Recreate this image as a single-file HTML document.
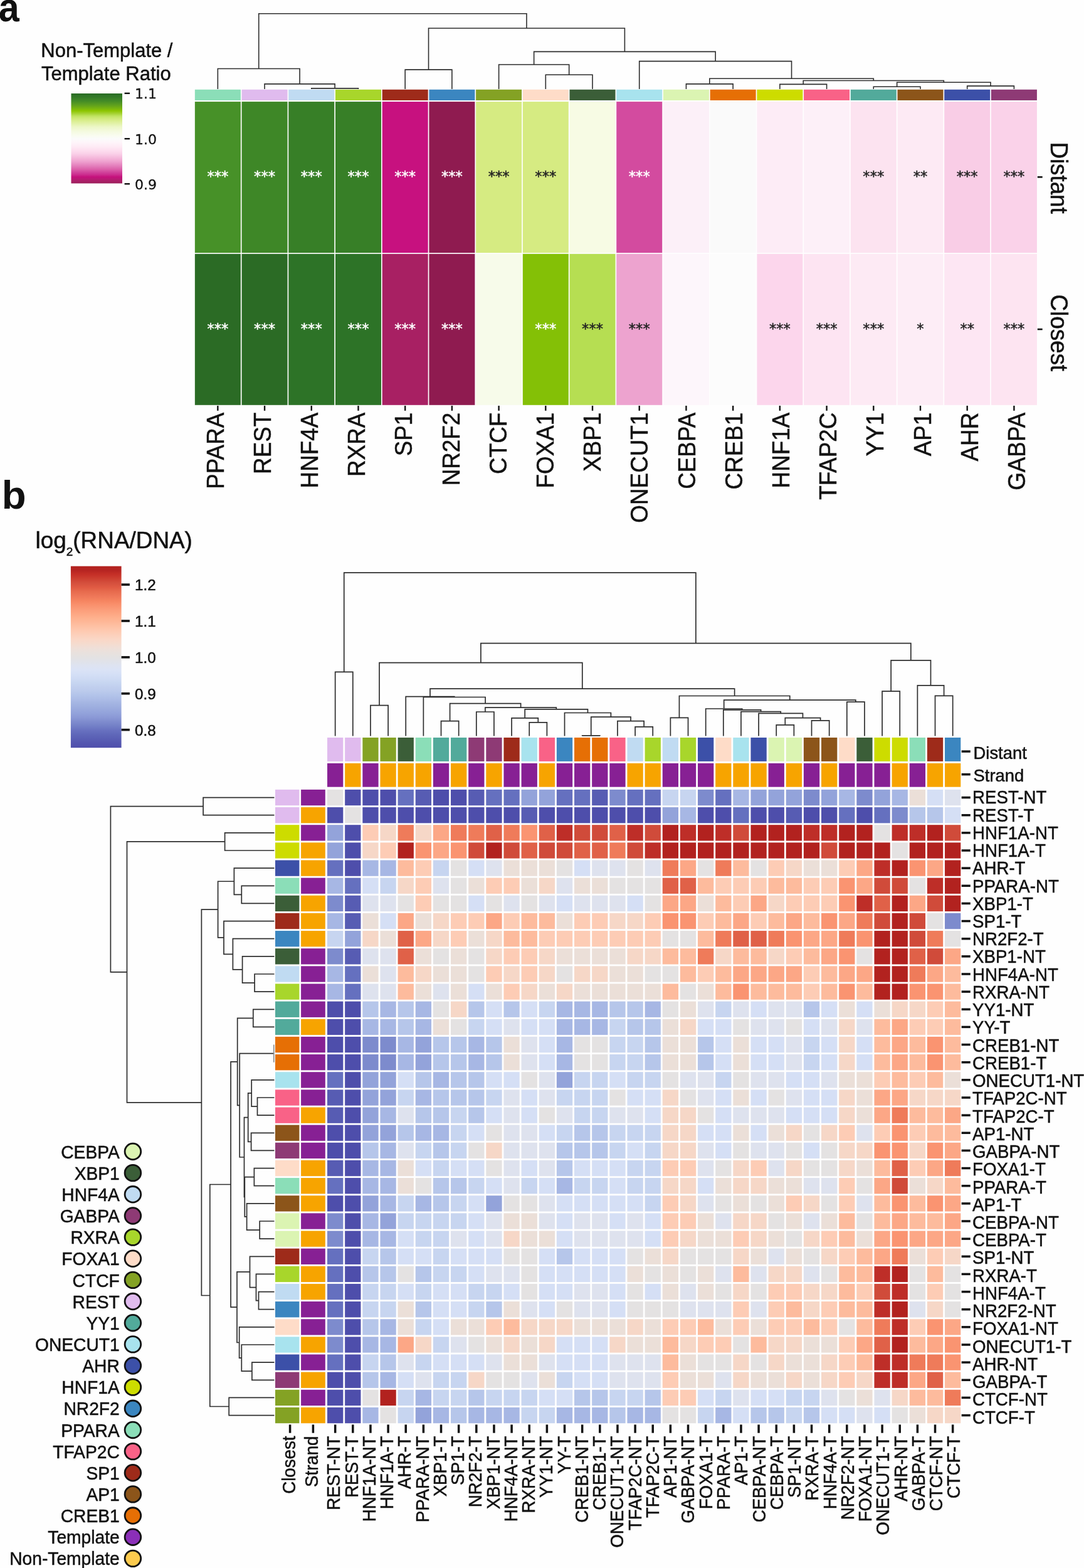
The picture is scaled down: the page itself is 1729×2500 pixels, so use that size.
<!DOCTYPE html>
<html lang="en"><head><meta charset="utf-8"><title>Figure: strand-specific TF activity heatmaps</title>
<style>html,body{margin:0;padding:0;background:#fff}body{width:1729px;height:2500px;overflow:hidden}svg{display:block}text{font-family:"Liberation Sans", Arial, Helvetica, sans-serif}text.d{font-family:"DejaVu Sans", "Liberation Sans", sans-serif}text.s{stroke:#111;stroke-width:0.5}</style>
</head><body>
<svg width="1729" height="2500" viewBox="0 0 1729 2500" fill="#111">
<rect width="1729" height="2500" fill="#fefefe"/>
<defs>
<linearGradient id="ga" x1="0" y1="0" x2="0" y2="1">
<stop offset="0" stop-color="#296a24"/>
<stop offset="0.034" stop-color="#317727"/>
<stop offset="0.082" stop-color="#428a27"/>
<stop offset="0.13" stop-color="#5fa01e"/>
<stop offset="0.169" stop-color="#7ab60e"/>
<stop offset="0.193" stop-color="#8cc500"/>
<stop offset="0.227" stop-color="#a8d438"/>
<stop offset="0.251" stop-color="#bfe360"/>
<stop offset="0.276" stop-color="#cfe978"/>
<stop offset="0.305" stop-color="#daee90"/>
<stop offset="0.348" stop-color="#e6f4b4"/>
<stop offset="0.372" stop-color="#edf7c8"/>
<stop offset="0.42" stop-color="#f4fadf"/>
<stop offset="0.469" stop-color="#f9fcf0"/>
<stop offset="0.503" stop-color="#fbfbfb"/>
<stop offset="0.542" stop-color="#fef5fa"/>
<stop offset="0.59" stop-color="#feebf5"/>
<stop offset="0.638" stop-color="#fddcee"/>
<stop offset="0.672" stop-color="#fad0e8"/>
<stop offset="0.72" stop-color="#f4b6da"/>
<stop offset="0.759" stop-color="#eea0ce"/>
<stop offset="0.807" stop-color="#e37dbb"/>
<stop offset="0.841" stop-color="#dc63ab"/>
<stop offset="0.88" stop-color="#d0409a"/>
<stop offset="0.904" stop-color="#cc2c8e"/>
<stop offset="0.928" stop-color="#c5107c"/>
<stop offset="0.952" stop-color="#b81a74"/>
<stop offset="0.976" stop-color="#a82065"/>
<stop offset="1" stop-color="#9a1d5a"/>
</linearGradient>
<linearGradient id="gb" x1="0" y1="0" x2="0" y2="1">
<stop offset="0" stop-color="#b32320"/>
<stop offset="0.021" stop-color="#b52421"/>
<stop offset="0.045" stop-color="#c52f27"/>
<stop offset="0.069" stop-color="#cd4031"/>
<stop offset="0.092" stop-color="#d44f3d"/>
<stop offset="0.116" stop-color="#e05a43"/>
<stop offset="0.14" stop-color="#e76b4e"/>
<stop offset="0.164" stop-color="#ee7658"/>
<stop offset="0.188" stop-color="#f5835f"/>
<stop offset="0.212" stop-color="#f9906c"/>
<stop offset="0.236" stop-color="#fb9b78"/>
<stop offset="0.26" stop-color="#fda682"/>
<stop offset="0.284" stop-color="#feb08d"/>
<stop offset="0.308" stop-color="#feb898"/>
<stop offset="0.332" stop-color="#fec1a4"/>
<stop offset="0.355" stop-color="#fec9b0"/>
<stop offset="0.379" stop-color="#fcd0bb"/>
<stop offset="0.403" stop-color="#fad7c6"/>
<stop offset="0.427" stop-color="#f5dbce"/>
<stop offset="0.451" stop-color="#efdfd8"/>
<stop offset="0.475" stop-color="#e9e1dd"/>
<stop offset="0.5" stop-color="#e4e2e2"/>
<stop offset="0.521" stop-color="#e1e2e8"/>
<stop offset="0.545" stop-color="#dee3f0"/>
<stop offset="0.569" stop-color="#dbe3f6"/>
<stop offset="0.593" stop-color="#d5e0f6"/>
<stop offset="0.617" stop-color="#cfdbf4"/>
<stop offset="0.641" stop-color="#c7d6f1"/>
<stop offset="0.665" stop-color="#c1cfee"/>
<stop offset="0.689" stop-color="#bbcaec"/>
<stop offset="0.713" stop-color="#b2c3e9"/>
<stop offset="0.736" stop-color="#abbbe6"/>
<stop offset="0.76" stop-color="#a2b3e1"/>
<stop offset="0.784" stop-color="#9babde"/>
<stop offset="0.808" stop-color="#93a3db"/>
<stop offset="0.832" stop-color="#8b99d6"/>
<stop offset="0.856" stop-color="#7f8cce"/>
<stop offset="0.88" stop-color="#7380c7"/>
<stop offset="0.904" stop-color="#6871c0"/>
<stop offset="0.928" stop-color="#5f67b9"/>
<stop offset="0.952" stop-color="#595eb4"/>
<stop offset="0.976" stop-color="#5355af"/>
<stop offset="1" stop-color="#4f4fab"/>
</linearGradient>
</defs>
<g id="panel-a">
<text font-size="64.5" transform="translate(-2.2 33.6) scale(0.92 1)" font-weight="bold">a</text>
<text x="170.4" y="91.4" font-size="31" text-anchor="middle" class="s">Non-Template /</text>
<text x="169.3" y="128.3" font-size="31" text-anchor="middle" class="s">Template Ratio</text>
<rect x="113.5" y="149" width="81.5" height="143.4" fill="url(#ga)"/>
<rect x="198.6" y="147.6" width="8.4" height="2.4" fill="#111"/>
<text x="214.9" y="157.3" font-size="22" class="d" stroke="#111" stroke-width="0.3">1.1</text>
<rect x="198.6" y="220" width="8.4" height="2.4" fill="#111"/>
<text x="214.9" y="229.7" font-size="22" class="d" stroke="#111" stroke-width="0.3">1.0</text>
<rect x="198.6" y="292" width="8.4" height="2.4" fill="#111"/>
<text x="214.9" y="301.7" font-size="22" class="d" stroke="#111" stroke-width="0.3">0.9</text>
<path d="M496.77 142V140.9H571.48V142M422.06 142V133.9H534.13V140.9M347.36 142V109.5H478.1V133.9M646.19 142V111.1H720.9V142M870.32 142V119.2H945.03V142M795.62 142V103H907.68V119.2M1094.45 142V133.9H1169.16V142M1243.88 142V134.4H1318.59V142M1393.29 142V138.2H1468V142M1542.71 142V137.1H1617.42V142M1430.65 138.2V131.2H1580.07V137.1M1281.23 134.4V128.5H1505.36V131.2M1131.81 133.9V125.2H1393.3V128.5M1019.74 142V97.6H1262.55V125.2M851.65 103V82.4H1141.15V97.6M683.55 111.1V45H996.4V82.4M412.73 109.5V21.7H839.97V45" fill="none" stroke="#2e2e2e" stroke-width="1.6"/>
<rect x="310.85" y="142.8" width="73.01" height="17.2" fill="#8bdeb8"/>
<rect x="385.56" y="142.8" width="73.01" height="17.2" fill="#e0bbee"/>
<rect x="460.27" y="142.8" width="73.01" height="17.2" fill="#c0dbf2"/>
<rect x="534.98" y="142.8" width="73.01" height="17.2" fill="#a8d62b"/>
<rect x="609.69" y="142.8" width="73.01" height="17.2" fill="#9e2b1a"/>
<rect x="684.4" y="142.8" width="73.01" height="17.2" fill="#3b86c0"/>
<rect x="759.11" y="142.8" width="73.01" height="17.2" fill="#84a224"/>
<rect x="833.82" y="142.8" width="73.01" height="17.2" fill="#fedcc8"/>
<rect x="908.53" y="142.8" width="73.01" height="17.2" fill="#3b5e38"/>
<rect x="983.24" y="142.8" width="73.01" height="17.2" fill="#a8e3ee"/>
<rect x="1057.95" y="142.8" width="73.01" height="17.2" fill="#dbf4b2"/>
<rect x="1132.66" y="142.8" width="73.01" height="17.2" fill="#e66f05"/>
<rect x="1207.37" y="142.8" width="73.01" height="17.2" fill="#cddc00"/>
<rect x="1282.08" y="142.8" width="73.01" height="17.2" fill="#f96287"/>
<rect x="1356.79" y="142.8" width="73.01" height="17.2" fill="#52aa9b"/>
<rect x="1431.5" y="142.8" width="73.01" height="17.2" fill="#8c551a"/>
<rect x="1506.21" y="142.8" width="73.01" height="17.2" fill="#3c50a8"/>
<rect x="1580.92" y="142.8" width="73.01" height="17.2" fill="#8e3a75"/>
<rect x="310.85" y="162.1" width="73.01" height="241" fill="#479128"/>
<rect x="385.56" y="162.1" width="73.01" height="241" fill="#3e8727"/>
<rect x="460.27" y="162.1" width="73.01" height="241" fill="#377f27"/>
<rect x="534.98" y="162.1" width="73.01" height="241" fill="#377f27"/>
<rect x="609.69" y="162.1" width="73.01" height="241" fill="#c7117f"/>
<rect x="684.4" y="162.1" width="73.01" height="241" fill="#8f1b50"/>
<rect x="759.11" y="162.1" width="73.01" height="241" fill="#d6eb82"/>
<rect x="833.82" y="162.1" width="73.01" height="241" fill="#d6eb82"/>
<rect x="908.53" y="162.1" width="73.01" height="241" fill="#f7fbe4"/>
<rect x="983.24" y="162.1" width="73.01" height="241" fill="#d34b9f"/>
<rect x="1057.95" y="162.1" width="73.01" height="241" fill="#fcf0f8"/>
<rect x="1132.66" y="162.1" width="73.01" height="241" fill="#fafafa"/>
<rect x="1207.37" y="162.1" width="73.01" height="241" fill="#fdecf6"/>
<rect x="1282.08" y="162.1" width="73.01" height="241" fill="#fdf0f8"/>
<rect x="1356.79" y="162.1" width="73.01" height="241" fill="#fce3f0"/>
<rect x="1431.5" y="162.1" width="73.01" height="241" fill="#fdeaf4"/>
<rect x="1506.21" y="162.1" width="73.01" height="241" fill="#f9cde6"/>
<rect x="1580.92" y="162.1" width="73.01" height="241" fill="#fad2e9"/>
<text x="347.36" y="289.4" font-size="22.6" text-anchor="middle" class="d" fill="#fff" stroke="#fff" stroke-width="0.45">***</text>
<text x="422.06" y="289.4" font-size="22.6" text-anchor="middle" class="d" fill="#fff" stroke="#fff" stroke-width="0.45">***</text>
<text x="496.77" y="289.4" font-size="22.6" text-anchor="middle" class="d" fill="#fff" stroke="#fff" stroke-width="0.45">***</text>
<text x="571.48" y="289.4" font-size="22.6" text-anchor="middle" class="d" fill="#fff" stroke="#fff" stroke-width="0.45">***</text>
<text x="646.19" y="289.4" font-size="22.6" text-anchor="middle" class="d" fill="#fff" stroke="#fff" stroke-width="0.45">***</text>
<text x="720.9" y="289.4" font-size="22.6" text-anchor="middle" class="d" fill="#fff" stroke="#fff" stroke-width="0.45">***</text>
<text x="795.62" y="289.4" font-size="22.6" text-anchor="middle" class="d" fill="#222" stroke="#222" stroke-width="0.45">***</text>
<text x="870.32" y="289.4" font-size="22.6" text-anchor="middle" class="d" fill="#222" stroke="#222" stroke-width="0.45">***</text>
<text x="1019.74" y="289.4" font-size="22.6" text-anchor="middle" class="d" fill="#fff" stroke="#fff" stroke-width="0.45">***</text>
<text x="1393.29" y="289.4" font-size="22.6" text-anchor="middle" class="d" fill="#222" stroke="#222" stroke-width="0.45">***</text>
<text x="1468" y="289.4" font-size="22.6" text-anchor="middle" class="d" fill="#222" stroke="#222" stroke-width="0.45">**</text>
<text x="1542.71" y="289.4" font-size="22.6" text-anchor="middle" class="d" fill="#222" stroke="#222" stroke-width="0.45">***</text>
<text x="1617.42" y="289.4" font-size="22.6" text-anchor="middle" class="d" fill="#222" stroke="#222" stroke-width="0.45">***</text>
<rect x="310.85" y="404.8" width="73.01" height="241" fill="#2b6b25"/>
<rect x="385.56" y="404.8" width="73.01" height="241" fill="#2b6b25"/>
<rect x="460.27" y="404.8" width="73.01" height="241" fill="#2d7327"/>
<rect x="534.98" y="404.8" width="73.01" height="241" fill="#2d7327"/>
<rect x="609.69" y="404.8" width="73.01" height="241" fill="#a82063"/>
<rect x="684.4" y="404.8" width="73.01" height="241" fill="#8f1b50"/>
<rect x="759.11" y="404.8" width="73.01" height="241" fill="#f7fbea"/>
<rect x="833.82" y="404.8" width="73.01" height="241" fill="#84c006"/>
<rect x="908.53" y="404.8" width="73.01" height="241" fill="#b6de52"/>
<rect x="983.24" y="404.8" width="73.01" height="241" fill="#eda3cf"/>
<rect x="1057.95" y="404.8" width="73.01" height="241" fill="#fdf6fb"/>
<rect x="1132.66" y="404.8" width="73.01" height="241" fill="#fcfcfc"/>
<rect x="1207.37" y="404.8" width="73.01" height="241" fill="#fcd6ec"/>
<rect x="1282.08" y="404.8" width="73.01" height="241" fill="#fde4f2"/>
<rect x="1356.79" y="404.8" width="73.01" height="241" fill="#fdeaf4"/>
<rect x="1431.5" y="404.8" width="73.01" height="241" fill="#fdedf6"/>
<rect x="1506.21" y="404.8" width="73.01" height="241" fill="#fde6f3"/>
<rect x="1580.92" y="404.8" width="73.01" height="241" fill="#fde4f1"/>
<text x="347.36" y="532.1" font-size="22.6" text-anchor="middle" class="d" fill="#fff" stroke="#fff" stroke-width="0.45">***</text>
<text x="422.06" y="532.1" font-size="22.6" text-anchor="middle" class="d" fill="#fff" stroke="#fff" stroke-width="0.45">***</text>
<text x="496.77" y="532.1" font-size="22.6" text-anchor="middle" class="d" fill="#fff" stroke="#fff" stroke-width="0.45">***</text>
<text x="571.48" y="532.1" font-size="22.6" text-anchor="middle" class="d" fill="#fff" stroke="#fff" stroke-width="0.45">***</text>
<text x="646.19" y="532.1" font-size="22.6" text-anchor="middle" class="d" fill="#fff" stroke="#fff" stroke-width="0.45">***</text>
<text x="720.9" y="532.1" font-size="22.6" text-anchor="middle" class="d" fill="#fff" stroke="#fff" stroke-width="0.45">***</text>
<text x="870.32" y="532.1" font-size="22.6" text-anchor="middle" class="d" fill="#fff" stroke="#fff" stroke-width="0.45">***</text>
<text x="945.03" y="532.1" font-size="22.6" text-anchor="middle" class="d" fill="#222" stroke="#222" stroke-width="0.45">***</text>
<text x="1019.74" y="532.1" font-size="22.6" text-anchor="middle" class="d" fill="#222" stroke="#222" stroke-width="0.45">***</text>
<text x="1243.88" y="532.1" font-size="22.6" text-anchor="middle" class="d" fill="#222" stroke="#222" stroke-width="0.45">***</text>
<text x="1318.59" y="532.1" font-size="22.6" text-anchor="middle" class="d" fill="#222" stroke="#222" stroke-width="0.45">***</text>
<text x="1393.29" y="532.1" font-size="22.6" text-anchor="middle" class="d" fill="#222" stroke="#222" stroke-width="0.45">***</text>
<text x="1468" y="532.1" font-size="22.6" text-anchor="middle" class="d" fill="#222" stroke="#222" stroke-width="0.45">*</text>
<text x="1542.71" y="532.1" font-size="22.6" text-anchor="middle" class="d" fill="#222" stroke="#222" stroke-width="0.45">**</text>
<text x="1617.42" y="532.1" font-size="22.6" text-anchor="middle" class="d" fill="#222" stroke="#222" stroke-width="0.45">***</text>
<rect x="346.16" y="646.9" width="2.4" height="7.9" fill="#111"/>
<text font-size="39.4" transform="translate(356.6 657.7) rotate(-90) scale(0.935 1)" text-anchor="end" class="s">PPARA</text>
<rect x="420.87" y="646.9" width="2.4" height="7.9" fill="#111"/>
<text font-size="39.4" transform="translate(431.8 657.7) rotate(-90) scale(0.935 1)" text-anchor="end" class="s">REST</text>
<rect x="495.57" y="646.9" width="2.4" height="7.9" fill="#111"/>
<text font-size="39.4" transform="translate(507 657.7) rotate(-90) scale(0.935 1)" text-anchor="end" class="s">HNF4A</text>
<rect x="570.28" y="646.9" width="2.4" height="7.9" fill="#111"/>
<text font-size="39.4" transform="translate(582.2 657.7) rotate(-90) scale(0.935 1)" text-anchor="end" class="s">RXRA</text>
<rect x="644.99" y="646.9" width="2.4" height="7.9" fill="#111"/>
<text font-size="39.4" transform="translate(657.4 657.7) rotate(-90) scale(0.935 1)" text-anchor="end" class="s">SP1</text>
<rect x="719.7" y="646.9" width="2.4" height="7.9" fill="#111"/>
<text font-size="39.4" transform="translate(732.6 657.7) rotate(-90) scale(0.935 1)" text-anchor="end" class="s">NR2F2</text>
<rect x="794.41" y="646.9" width="2.4" height="7.9" fill="#111"/>
<text font-size="39.4" transform="translate(807.8 657.7) rotate(-90) scale(0.935 1)" text-anchor="end" class="s">CTCF</text>
<rect x="869.12" y="646.9" width="2.4" height="7.9" fill="#111"/>
<text font-size="39.4" transform="translate(883 657.7) rotate(-90) scale(0.935 1)" text-anchor="end" class="s">FOXA1</text>
<rect x="943.83" y="646.9" width="2.4" height="7.9" fill="#111"/>
<text font-size="39.4" transform="translate(958.2 657.7) rotate(-90) scale(0.935 1)" text-anchor="end" class="s">XBP1</text>
<rect x="1018.54" y="646.9" width="2.4" height="7.9" fill="#111"/>
<text font-size="39.4" transform="translate(1033.4 657.7) rotate(-90) scale(0.935 1)" text-anchor="end" class="s">ONECUT1</text>
<rect x="1093.25" y="646.9" width="2.4" height="7.9" fill="#111"/>
<text font-size="39.4" transform="translate(1108.6 657.7) rotate(-90) scale(0.935 1)" text-anchor="end" class="s">CEBPA</text>
<rect x="1167.96" y="646.9" width="2.4" height="7.9" fill="#111"/>
<text font-size="39.4" transform="translate(1183.8 657.7) rotate(-90) scale(0.935 1)" text-anchor="end" class="s">CREB1</text>
<rect x="1242.67" y="646.9" width="2.4" height="7.9" fill="#111"/>
<text font-size="39.4" transform="translate(1259 657.7) rotate(-90) scale(0.935 1)" text-anchor="end" class="s">HNF1A</text>
<rect x="1317.38" y="646.9" width="2.4" height="7.9" fill="#111"/>
<text font-size="39.4" transform="translate(1334.2 657.7) rotate(-90) scale(0.935 1)" text-anchor="end" class="s">TFAP2C</text>
<rect x="1392.09" y="646.9" width="2.4" height="7.9" fill="#111"/>
<text font-size="39.4" transform="translate(1409.4 657.7) rotate(-90) scale(0.935 1)" text-anchor="end" class="s">YY1</text>
<rect x="1466.8" y="646.9" width="2.4" height="7.9" fill="#111"/>
<text font-size="39.4" transform="translate(1484.6 657.7) rotate(-90) scale(0.935 1)" text-anchor="end" class="s">AP1</text>
<rect x="1541.51" y="646.9" width="2.4" height="7.9" fill="#111"/>
<text font-size="39.4" transform="translate(1559.8 657.7) rotate(-90) scale(0.935 1)" text-anchor="end" class="s">AHR</text>
<rect x="1616.22" y="646.9" width="2.4" height="7.9" fill="#111"/>
<text font-size="39.4" transform="translate(1635 657.7) rotate(-90) scale(0.935 1)" text-anchor="end" class="s">GABPA</text>
<rect x="1654.8" y="281" width="7.9" height="2.6" fill="#111"/>
<text font-size="39.3" transform="translate(1675.9 283.6) rotate(90) scale(0.935 1)" text-anchor="middle" class="s">Distant</text>
<rect x="1654.8" y="523.7" width="7.9" height="2.6" fill="#111"/>
<text font-size="39.3" transform="translate(1675.9 530.8) rotate(90) scale(0.935 1)" text-anchor="middle" class="s">Closest</text>
</g>
<g id="panel-b">
<text font-size="62.6" transform="translate(2.7 810.9) scale(1.015 1)" font-weight="bold">b</text>
<text class="s" transform="translate(56.5 874.2) scale(1 1)" font-size="36.9">log<tspan font-size="19" dy="11.3">2</tspan><tspan dy="-11.3">(RNA/DNA)</tspan></text>
<rect x="112.9" y="902.7" width="80.7" height="289.5" fill="url(#gb)"/>
<rect x="193.6" y="930.3" width="13.3" height="3.6" fill="#111"/>
<text x="215" y="941.1" font-size="24.2" class="s">1.2</text>
<rect x="193.6" y="988.2" width="13.3" height="3.6" fill="#111"/>
<text x="215" y="999" font-size="24.2" class="s">1.1</text>
<rect x="193.6" y="1046.1" width="13.3" height="3.6" fill="#111"/>
<text x="215" y="1056.9" font-size="24.2" class="s">1.0</text>
<rect x="193.6" y="1104" width="13.3" height="3.6" fill="#111"/>
<text x="215" y="1114.8" font-size="24.2" class="s">0.9</text>
<rect x="193.6" y="1161.8" width="13.3" height="3.6" fill="#111"/>
<text x="215" y="1172.6" font-size="24.2" class="s">0.8</text>
<path d="M534.67 1173.5V1071.4H562.81V1173.5M590.96 1173.5V1124.6H619.1V1173.5M703.53 1173.5V1149.6H731.67V1173.5M759.82 1173.5V1135H787.96V1173.5M844.24 1173.5V1151.9H872.39V1173.5M816.1 1173.5V1144.9H858.32V1151.9M928.67 1173.5V1172.9H956.82V1173.5M1013.1 1173.5V1158.9H1041.25V1173.5M984.96 1173.5V1149.6H1027.17V1158.9M942.75 1172.9V1143.2H1006.07V1149.6M900.53 1173.5V1136.5H974.41V1143.2M837.21 1144.9V1130.9H937.47V1136.5M773.89 1135V1128.2H887.34V1130.9M717.6 1149.6V1121.6H830.61V1128.2M675.39 1173.5V1111.5H774.11V1121.6M647.24 1173.5V1110.6H724.75V1111.5M1069.39 1173.5V1144.4H1097.53V1173.5M1238.25 1173.5V1155.8H1266.39V1173.5M1294.53 1173.5V1148.9H1322.68V1173.5M1252.32 1155.8V1144.6H1308.6V1148.9M1210.1 1173.5V1137.4H1280.46V1144.6M1181.96 1173.5V1134.7H1245.28V1137.4M1153.82 1173.5V1131.9H1213.62V1134.7M1125.67 1173.5V1130H1183.72V1131.9M1350.82 1173.5V1119.15H1378.96V1173.5M1154.7 1130V1116.2H1364.89V1119.15M1083.46 1144.4V1109.5H1259.79V1116.2M686 1110.6V1098.1H1171.63V1109.5M605.03 1124.6V1056.7H928.81V1098.1M1407.1 1173.5V1102.2H1435.25V1173.5M1491.53 1173.5V1109.3H1519.68V1173.5M1463.39 1173.5V1092.8H1505.61V1109.3M1421.18 1102.2V1052.9H1484.5V1092.8M766.92 1056.7V1025.7H1452.84V1052.9M548.74 1071.4V913.2H1109.88V1025.7" fill="none" stroke="#2e2e2e" stroke-width="1.7"/>
<path d="M437.5 1271.57H324.1V1299.71H437.5M437.5 1327.86H358.6V1356H437.5M437.5 1412.29H385.3V1440.43H437.5M437.5 1384.14H373.4V1426.36H385.3M437.5 1553H406.1V1581.14H437.5M437.5 1524.86H386.6V1567.07H406.1M437.5 1496.72H371.4V1545.97H386.6M437.5 1468.57H357V1521.34H371.4M373.4 1405.25H347.6V1494.96H357M437.5 1609.29H403.8V1637.43H437.5M437.5 1750H410.5V1778.15H437.5M437.5 1721.86H401.2V1764.07H410.5M437.5 1806.29H400.6V1834.43H437.5M401.2 1742.97H395.7V1820.36H400.6M437.5 1862.57H405.4V1890.72H437.5M437.5 1947H414.2V1975.15H437.5M437.5 1918.86H393.6V1961.08H414.2M405.4 1876.65H390.3V1939.97H393.6M395.7 1781.66H389.5V1908.31H390.3M436.8 1679.64H382.2V1844.99H389.5M403.8 1623.36H378.7V1762.32H382.2M437.5 2059.58H412.5V2087.72H437.5M437.5 2031.43H408.5V2073.65H412.5M437.5 2003.29H398.5V2052.54H408.5M437.5 2172.15H401.9V2200.29H437.5M437.5 2144H385.3V2186.22H401.9M437.5 2115.86H381.65V2165.11H385.3M398.5 2027.91H378V2140.49H381.65M378.7 1692.84H368.1V2084.2H378M437.5 2228.43H365.2V2256.58H437.5M368.1 1888.52H334.8V2242.51H365.2M347.6 1450.1H321.4V2065.51H334.8M358.6 1341.93H202.5V1757.81H321.4M324.1 1285.64H176.4V1549.87H202.5" fill="none" stroke="#2e2e2e" stroke-width="1.7"/>
<path d="M436.8 1665.57V1693.72" fill="none" stroke="#8c8c8c" stroke-width="1.7"/>
<rect x="522.02" y="1176" width="25.29" height="37.9" fill="#e0bbee"/>
<rect x="522.02" y="1217" width="25.29" height="37.7" fill="#872094"/>
<rect x="550.17" y="1176" width="25.29" height="37.9" fill="#e0bbee"/>
<rect x="550.17" y="1217" width="25.29" height="37.7" fill="#f7a400"/>
<rect x="578.31" y="1176" width="25.29" height="37.9" fill="#84a224"/>
<rect x="578.31" y="1217" width="25.29" height="37.7" fill="#872094"/>
<rect x="606.45" y="1176" width="25.29" height="37.9" fill="#84a224"/>
<rect x="606.45" y="1217" width="25.29" height="37.7" fill="#f7a400"/>
<rect x="634.6" y="1176" width="25.29" height="37.9" fill="#3b5e38"/>
<rect x="634.6" y="1217" width="25.29" height="37.7" fill="#f7a400"/>
<rect x="662.74" y="1176" width="25.29" height="37.9" fill="#8bdeb8"/>
<rect x="662.74" y="1217" width="25.29" height="37.7" fill="#f7a400"/>
<rect x="690.88" y="1176" width="25.29" height="37.9" fill="#52aa9b"/>
<rect x="690.88" y="1217" width="25.29" height="37.7" fill="#872094"/>
<rect x="719.03" y="1176" width="25.29" height="37.9" fill="#52aa9b"/>
<rect x="719.03" y="1217" width="25.29" height="37.7" fill="#f7a400"/>
<rect x="747.17" y="1176" width="25.29" height="37.9" fill="#8e3a75"/>
<rect x="747.17" y="1217" width="25.29" height="37.7" fill="#872094"/>
<rect x="775.31" y="1176" width="25.29" height="37.9" fill="#8e3a75"/>
<rect x="775.31" y="1217" width="25.29" height="37.7" fill="#f7a400"/>
<rect x="803.45" y="1176" width="25.29" height="37.9" fill="#9e2b1a"/>
<rect x="803.45" y="1217" width="25.29" height="37.7" fill="#872094"/>
<rect x="831.6" y="1176" width="25.29" height="37.9" fill="#a8e3ee"/>
<rect x="831.6" y="1217" width="25.29" height="37.7" fill="#872094"/>
<rect x="859.74" y="1176" width="25.29" height="37.9" fill="#f96287"/>
<rect x="859.74" y="1217" width="25.29" height="37.7" fill="#f7a400"/>
<rect x="887.88" y="1176" width="25.29" height="37.9" fill="#3b86c0"/>
<rect x="887.88" y="1217" width="25.29" height="37.7" fill="#872094"/>
<rect x="916.03" y="1176" width="25.29" height="37.9" fill="#e66f05"/>
<rect x="916.03" y="1217" width="25.29" height="37.7" fill="#872094"/>
<rect x="944.17" y="1176" width="25.29" height="37.9" fill="#e66f05"/>
<rect x="944.17" y="1217" width="25.29" height="37.7" fill="#872094"/>
<rect x="972.31" y="1176" width="25.29" height="37.9" fill="#f96287"/>
<rect x="972.31" y="1217" width="25.29" height="37.7" fill="#872094"/>
<rect x="1000.46" y="1176" width="25.29" height="37.9" fill="#c0dbf2"/>
<rect x="1000.46" y="1217" width="25.29" height="37.7" fill="#f7a400"/>
<rect x="1028.6" y="1176" width="25.29" height="37.9" fill="#a8d62b"/>
<rect x="1028.6" y="1217" width="25.29" height="37.7" fill="#f7a400"/>
<rect x="1056.74" y="1176" width="25.29" height="37.9" fill="#c0dbf2"/>
<rect x="1056.74" y="1217" width="25.29" height="37.7" fill="#872094"/>
<rect x="1084.88" y="1176" width="25.29" height="37.9" fill="#a8d62b"/>
<rect x="1084.88" y="1217" width="25.29" height="37.7" fill="#872094"/>
<rect x="1113.03" y="1176" width="25.29" height="37.9" fill="#3c50a8"/>
<rect x="1113.03" y="1217" width="25.29" height="37.7" fill="#872094"/>
<rect x="1141.17" y="1176" width="25.29" height="37.9" fill="#fedcc8"/>
<rect x="1141.17" y="1217" width="25.29" height="37.7" fill="#f7a400"/>
<rect x="1169.31" y="1176" width="25.29" height="37.9" fill="#a8e3ee"/>
<rect x="1169.31" y="1217" width="25.29" height="37.7" fill="#f7a400"/>
<rect x="1197.46" y="1176" width="25.29" height="37.9" fill="#3c50a8"/>
<rect x="1197.46" y="1217" width="25.29" height="37.7" fill="#f7a400"/>
<rect x="1225.6" y="1176" width="25.29" height="37.9" fill="#dbf4b2"/>
<rect x="1225.6" y="1217" width="25.29" height="37.7" fill="#872094"/>
<rect x="1253.74" y="1176" width="25.29" height="37.9" fill="#dbf4b2"/>
<rect x="1253.74" y="1217" width="25.29" height="37.7" fill="#f7a400"/>
<rect x="1281.89" y="1176" width="25.29" height="37.9" fill="#8c551a"/>
<rect x="1281.89" y="1217" width="25.29" height="37.7" fill="#872094"/>
<rect x="1310.03" y="1176" width="25.29" height="37.9" fill="#8c551a"/>
<rect x="1310.03" y="1217" width="25.29" height="37.7" fill="#f7a400"/>
<rect x="1338.17" y="1176" width="25.29" height="37.9" fill="#fedcc8"/>
<rect x="1338.17" y="1217" width="25.29" height="37.7" fill="#872094"/>
<rect x="1366.31" y="1176" width="25.29" height="37.9" fill="#3b5e38"/>
<rect x="1366.31" y="1217" width="25.29" height="37.7" fill="#872094"/>
<rect x="1394.46" y="1176" width="25.29" height="37.9" fill="#cddc00"/>
<rect x="1394.46" y="1217" width="25.29" height="37.7" fill="#872094"/>
<rect x="1422.6" y="1176" width="25.29" height="37.9" fill="#cddc00"/>
<rect x="1422.6" y="1217" width="25.29" height="37.7" fill="#f7a400"/>
<rect x="1450.74" y="1176" width="25.29" height="37.9" fill="#8bdeb8"/>
<rect x="1450.74" y="1217" width="25.29" height="37.7" fill="#872094"/>
<rect x="1478.89" y="1176" width="25.29" height="37.9" fill="#9e2b1a"/>
<rect x="1478.89" y="1217" width="25.29" height="37.7" fill="#f7a400"/>
<rect x="1507.03" y="1176" width="25.29" height="37.9" fill="#3b86c0"/>
<rect x="1507.03" y="1217" width="25.29" height="37.7" fill="#f7a400"/>
<rect x="439" y="1258.92" width="38.4" height="25.29" fill="#e0bbee"/>
<rect x="480.1" y="1258.92" width="38.7" height="25.29" fill="#872094"/>
<rect x="439" y="1287.07" width="38.4" height="25.29" fill="#e0bbee"/>
<rect x="480.1" y="1287.07" width="38.7" height="25.29" fill="#f7a400"/>
<rect x="439" y="1315.21" width="38.4" height="25.29" fill="#cddc00"/>
<rect x="480.1" y="1315.21" width="38.7" height="25.29" fill="#872094"/>
<rect x="439" y="1343.35" width="38.4" height="25.29" fill="#cddc00"/>
<rect x="480.1" y="1343.35" width="38.7" height="25.29" fill="#f7a400"/>
<rect x="439" y="1371.5" width="38.4" height="25.29" fill="#3c50a8"/>
<rect x="480.1" y="1371.5" width="38.7" height="25.29" fill="#f7a400"/>
<rect x="439" y="1399.64" width="38.4" height="25.29" fill="#8bdeb8"/>
<rect x="480.1" y="1399.64" width="38.7" height="25.29" fill="#872094"/>
<rect x="439" y="1427.78" width="38.4" height="25.29" fill="#3b5e38"/>
<rect x="480.1" y="1427.78" width="38.7" height="25.29" fill="#f7a400"/>
<rect x="439" y="1455.93" width="38.4" height="25.29" fill="#9e2b1a"/>
<rect x="480.1" y="1455.93" width="38.7" height="25.29" fill="#f7a400"/>
<rect x="439" y="1484.07" width="38.4" height="25.29" fill="#3b86c0"/>
<rect x="480.1" y="1484.07" width="38.7" height="25.29" fill="#f7a400"/>
<rect x="439" y="1512.21" width="38.4" height="25.29" fill="#3b5e38"/>
<rect x="480.1" y="1512.21" width="38.7" height="25.29" fill="#872094"/>
<rect x="439" y="1540.36" width="38.4" height="25.29" fill="#c0dbf2"/>
<rect x="480.1" y="1540.36" width="38.7" height="25.29" fill="#872094"/>
<rect x="439" y="1568.5" width="38.4" height="25.29" fill="#a8d62b"/>
<rect x="480.1" y="1568.5" width="38.7" height="25.29" fill="#872094"/>
<rect x="439" y="1596.64" width="38.4" height="25.29" fill="#52aa9b"/>
<rect x="480.1" y="1596.64" width="38.7" height="25.29" fill="#872094"/>
<rect x="439" y="1624.78" width="38.4" height="25.29" fill="#52aa9b"/>
<rect x="480.1" y="1624.78" width="38.7" height="25.29" fill="#f7a400"/>
<rect x="439" y="1652.93" width="38.4" height="25.29" fill="#e66f05"/>
<rect x="480.1" y="1652.93" width="38.7" height="25.29" fill="#872094"/>
<rect x="439" y="1681.07" width="38.4" height="25.29" fill="#e66f05"/>
<rect x="480.1" y="1681.07" width="38.7" height="25.29" fill="#872094"/>
<rect x="439" y="1709.21" width="38.4" height="25.29" fill="#a8e3ee"/>
<rect x="480.1" y="1709.21" width="38.7" height="25.29" fill="#872094"/>
<rect x="439" y="1737.36" width="38.4" height="25.29" fill="#f96287"/>
<rect x="480.1" y="1737.36" width="38.7" height="25.29" fill="#872094"/>
<rect x="439" y="1765.5" width="38.4" height="25.29" fill="#f96287"/>
<rect x="480.1" y="1765.5" width="38.7" height="25.29" fill="#f7a400"/>
<rect x="439" y="1793.64" width="38.4" height="25.29" fill="#8c551a"/>
<rect x="480.1" y="1793.64" width="38.7" height="25.29" fill="#872094"/>
<rect x="439" y="1821.79" width="38.4" height="25.29" fill="#8e3a75"/>
<rect x="480.1" y="1821.79" width="38.7" height="25.29" fill="#872094"/>
<rect x="439" y="1849.93" width="38.4" height="25.29" fill="#fedcc8"/>
<rect x="480.1" y="1849.93" width="38.7" height="25.29" fill="#f7a400"/>
<rect x="439" y="1878.07" width="38.4" height="25.29" fill="#8bdeb8"/>
<rect x="480.1" y="1878.07" width="38.7" height="25.29" fill="#f7a400"/>
<rect x="439" y="1906.21" width="38.4" height="25.29" fill="#8c551a"/>
<rect x="480.1" y="1906.21" width="38.7" height="25.29" fill="#f7a400"/>
<rect x="439" y="1934.36" width="38.4" height="25.29" fill="#dbf4b2"/>
<rect x="480.1" y="1934.36" width="38.7" height="25.29" fill="#872094"/>
<rect x="439" y="1962.5" width="38.4" height="25.29" fill="#dbf4b2"/>
<rect x="480.1" y="1962.5" width="38.7" height="25.29" fill="#f7a400"/>
<rect x="439" y="1990.64" width="38.4" height="25.29" fill="#9e2b1a"/>
<rect x="480.1" y="1990.64" width="38.7" height="25.29" fill="#872094"/>
<rect x="439" y="2018.79" width="38.4" height="25.29" fill="#a8d62b"/>
<rect x="480.1" y="2018.79" width="38.7" height="25.29" fill="#f7a400"/>
<rect x="439" y="2046.93" width="38.4" height="25.29" fill="#c0dbf2"/>
<rect x="480.1" y="2046.93" width="38.7" height="25.29" fill="#f7a400"/>
<rect x="439" y="2075.07" width="38.4" height="25.29" fill="#3b86c0"/>
<rect x="480.1" y="2075.07" width="38.7" height="25.29" fill="#872094"/>
<rect x="439" y="2103.22" width="38.4" height="25.29" fill="#fedcc8"/>
<rect x="480.1" y="2103.22" width="38.7" height="25.29" fill="#872094"/>
<rect x="439" y="2131.36" width="38.4" height="25.29" fill="#a8e3ee"/>
<rect x="480.1" y="2131.36" width="38.7" height="25.29" fill="#f7a400"/>
<rect x="439" y="2159.5" width="38.4" height="25.29" fill="#3c50a8"/>
<rect x="480.1" y="2159.5" width="38.7" height="25.29" fill="#872094"/>
<rect x="439" y="2187.64" width="38.4" height="25.29" fill="#8e3a75"/>
<rect x="480.1" y="2187.64" width="38.7" height="25.29" fill="#f7a400"/>
<rect x="439" y="2215.79" width="38.4" height="25.29" fill="#84a224"/>
<rect x="480.1" y="2215.79" width="38.7" height="25.29" fill="#872094"/>
<rect x="439" y="2243.93" width="38.4" height="25.29" fill="#84a224"/>
<rect x="480.1" y="2243.93" width="38.7" height="25.29" fill="#f7a400"/>
<rect x="522.02" y="1258.92" width="25.29" height="25.29" fill="#e4e2e2"/>
<rect x="550.17" y="1258.92" width="25.29" height="25.29" fill="#4e4eab"/>
<rect x="578.31" y="1258.92" width="25.29" height="25.29" fill="#4e4eab"/>
<rect x="606.45" y="1258.92" width="25.29" height="25.29" fill="#4e4eab"/>
<rect x="634.6" y="1258.92" width="25.29" height="25.29" fill="#6570bf"/>
<rect x="662.74" y="1258.92" width="25.29" height="25.29" fill="#575cb3"/>
<rect x="690.88" y="1258.92" width="25.29" height="25.29" fill="#4e4eab"/>
<rect x="719.03" y="1258.92" width="25.29" height="25.29" fill="#4e4eab"/>
<rect x="747.17" y="1258.92" width="25.29" height="25.29" fill="#575cb3"/>
<rect x="775.31" y="1258.92" width="25.29" height="25.29" fill="#6570bf"/>
<rect x="803.45" y="1258.92" width="25.29" height="25.29" fill="#6570bf"/>
<rect x="831.6" y="1258.92" width="25.29" height="25.29" fill="#93a3da"/>
<rect x="859.74" y="1258.92" width="25.29" height="25.29" fill="#93a3da"/>
<rect x="887.88" y="1258.92" width="25.29" height="25.29" fill="#6570bf"/>
<rect x="916.03" y="1258.92" width="25.29" height="25.29" fill="#6570bf"/>
<rect x="944.17" y="1258.92" width="25.29" height="25.29" fill="#575cb3"/>
<rect x="972.31" y="1258.92" width="25.29" height="25.29" fill="#7d8bcd"/>
<rect x="1000.46" y="1258.92" width="25.29" height="25.29" fill="#6570bf"/>
<rect x="1028.6" y="1258.92" width="25.29" height="25.29" fill="#6570bf"/>
<rect x="1056.74" y="1258.92" width="25.29" height="25.29" fill="#c7d5f0"/>
<rect x="1084.88" y="1258.92" width="25.29" height="25.29" fill="#c7d5f0"/>
<rect x="1113.03" y="1258.92" width="25.29" height="25.29" fill="#7d8bcd"/>
<rect x="1141.17" y="1258.92" width="25.29" height="25.29" fill="#6570bf"/>
<rect x="1169.31" y="1258.92" width="25.29" height="25.29" fill="#a7b7e4"/>
<rect x="1197.46" y="1258.92" width="25.29" height="25.29" fill="#93a3da"/>
<rect x="1225.6" y="1258.92" width="25.29" height="25.29" fill="#93a3da"/>
<rect x="1253.74" y="1258.92" width="25.29" height="25.29" fill="#93a3da"/>
<rect x="1281.89" y="1258.92" width="25.29" height="25.29" fill="#7d8bcd"/>
<rect x="1310.03" y="1258.92" width="25.29" height="25.29" fill="#93a3da"/>
<rect x="1338.17" y="1258.92" width="25.29" height="25.29" fill="#a7b7e4"/>
<rect x="1366.31" y="1258.92" width="25.29" height="25.29" fill="#7d8bcd"/>
<rect x="1394.46" y="1258.92" width="25.29" height="25.29" fill="#93a3da"/>
<rect x="1422.6" y="1258.92" width="25.29" height="25.29" fill="#a7b7e4"/>
<rect x="1450.74" y="1258.92" width="25.29" height="25.29" fill="#ebdfd8"/>
<rect x="1478.89" y="1258.92" width="25.29" height="25.29" fill="#d5dff5"/>
<rect x="1507.03" y="1258.92" width="25.29" height="25.29" fill="#dee2ee"/>
<rect x="522.02" y="1287.07" width="25.29" height="25.29" fill="#4e4eab"/>
<rect x="550.17" y="1287.07" width="25.29" height="25.29" fill="#e4e2e2"/>
<rect x="578.31" y="1287.07" width="25.29" height="25.29" fill="#4e4eab"/>
<rect x="606.45" y="1287.07" width="25.29" height="25.29" fill="#4e4eab"/>
<rect x="634.6" y="1287.07" width="25.29" height="25.29" fill="#4e4eab"/>
<rect x="662.74" y="1287.07" width="25.29" height="25.29" fill="#4e4eab"/>
<rect x="690.88" y="1287.07" width="25.29" height="25.29" fill="#4e4eab"/>
<rect x="719.03" y="1287.07" width="25.29" height="25.29" fill="#4e4eab"/>
<rect x="747.17" y="1287.07" width="25.29" height="25.29" fill="#4e4eab"/>
<rect x="775.31" y="1287.07" width="25.29" height="25.29" fill="#4e4eab"/>
<rect x="803.45" y="1287.07" width="25.29" height="25.29" fill="#4e4eab"/>
<rect x="831.6" y="1287.07" width="25.29" height="25.29" fill="#575cb3"/>
<rect x="859.74" y="1287.07" width="25.29" height="25.29" fill="#4e4eab"/>
<rect x="887.88" y="1287.07" width="25.29" height="25.29" fill="#4e4eab"/>
<rect x="916.03" y="1287.07" width="25.29" height="25.29" fill="#4e4eab"/>
<rect x="944.17" y="1287.07" width="25.29" height="25.29" fill="#4e4eab"/>
<rect x="972.31" y="1287.07" width="25.29" height="25.29" fill="#4e4eab"/>
<rect x="1000.46" y="1287.07" width="25.29" height="25.29" fill="#4e4eab"/>
<rect x="1028.6" y="1287.07" width="25.29" height="25.29" fill="#4e4eab"/>
<rect x="1056.74" y="1287.07" width="25.29" height="25.29" fill="#93a3da"/>
<rect x="1084.88" y="1287.07" width="25.29" height="25.29" fill="#a7b7e4"/>
<rect x="1113.03" y="1287.07" width="25.29" height="25.29" fill="#4e4eab"/>
<rect x="1141.17" y="1287.07" width="25.29" height="25.29" fill="#4e4eab"/>
<rect x="1169.31" y="1287.07" width="25.29" height="25.29" fill="#6570bf"/>
<rect x="1197.46" y="1287.07" width="25.29" height="25.29" fill="#4e4eab"/>
<rect x="1225.6" y="1287.07" width="25.29" height="25.29" fill="#4e4eab"/>
<rect x="1253.74" y="1287.07" width="25.29" height="25.29" fill="#575cb3"/>
<rect x="1281.89" y="1287.07" width="25.29" height="25.29" fill="#4e4eab"/>
<rect x="1310.03" y="1287.07" width="25.29" height="25.29" fill="#4e4eab"/>
<rect x="1338.17" y="1287.07" width="25.29" height="25.29" fill="#6570bf"/>
<rect x="1366.31" y="1287.07" width="25.29" height="25.29" fill="#4e4eab"/>
<rect x="1394.46" y="1287.07" width="25.29" height="25.29" fill="#6570bf"/>
<rect x="1422.6" y="1287.07" width="25.29" height="25.29" fill="#7d8bcd"/>
<rect x="1450.74" y="1287.07" width="25.29" height="25.29" fill="#b6c6ea"/>
<rect x="1478.89" y="1287.07" width="25.29" height="25.29" fill="#b6c6ea"/>
<rect x="1507.03" y="1287.07" width="25.29" height="25.29" fill="#d5dff5"/>
<rect x="522.02" y="1315.21" width="25.29" height="25.29" fill="#93a3da"/>
<rect x="550.17" y="1315.21" width="25.29" height="25.29" fill="#4e4eab"/>
<rect x="578.31" y="1315.21" width="25.29" height="25.29" fill="#fdccb5"/>
<rect x="606.45" y="1315.21" width="25.29" height="25.29" fill="#f6d7c7"/>
<rect x="634.6" y="1315.21" width="25.29" height="25.29" fill="#ef7b5a"/>
<rect x="662.74" y="1315.21" width="25.29" height="25.29" fill="#f6d7c7"/>
<rect x="690.88" y="1315.21" width="25.29" height="25.29" fill="#fca786"/>
<rect x="719.03" y="1315.21" width="25.29" height="25.29" fill="#ef7b5a"/>
<rect x="747.17" y="1315.21" width="25.29" height="25.29" fill="#ef7b5a"/>
<rect x="775.31" y="1315.21" width="25.29" height="25.29" fill="#e06148"/>
<rect x="803.45" y="1315.21" width="25.29" height="25.29" fill="#ef7b5a"/>
<rect x="831.6" y="1315.21" width="25.29" height="25.29" fill="#fa9471"/>
<rect x="859.74" y="1315.21" width="25.29" height="25.29" fill="#e06148"/>
<rect x="887.88" y="1315.21" width="25.29" height="25.29" fill="#be2e28"/>
<rect x="916.03" y="1315.21" width="25.29" height="25.29" fill="#d04b3a"/>
<rect x="944.17" y="1315.21" width="25.29" height="25.29" fill="#d04b3a"/>
<rect x="972.31" y="1315.21" width="25.29" height="25.29" fill="#e06148"/>
<rect x="1000.46" y="1315.21" width="25.29" height="25.29" fill="#be2e28"/>
<rect x="1028.6" y="1315.21" width="25.29" height="25.29" fill="#d04b3a"/>
<rect x="1056.74" y="1315.21" width="25.29" height="25.29" fill="#b2221f"/>
<rect x="1084.88" y="1315.21" width="25.29" height="25.29" fill="#be2e28"/>
<rect x="1113.03" y="1315.21" width="25.29" height="25.29" fill="#b2221f"/>
<rect x="1141.17" y="1315.21" width="25.29" height="25.29" fill="#be2e28"/>
<rect x="1169.31" y="1315.21" width="25.29" height="25.29" fill="#d04b3a"/>
<rect x="1197.46" y="1315.21" width="25.29" height="25.29" fill="#b2221f"/>
<rect x="1225.6" y="1315.21" width="25.29" height="25.29" fill="#b2221f"/>
<rect x="1253.74" y="1315.21" width="25.29" height="25.29" fill="#b2221f"/>
<rect x="1281.89" y="1315.21" width="25.29" height="25.29" fill="#be2e28"/>
<rect x="1310.03" y="1315.21" width="25.29" height="25.29" fill="#be2e28"/>
<rect x="1338.17" y="1315.21" width="25.29" height="25.29" fill="#b2221f"/>
<rect x="1366.31" y="1315.21" width="25.29" height="25.29" fill="#b2221f"/>
<rect x="1394.46" y="1315.21" width="25.29" height="25.29" fill="#e4e2e2"/>
<rect x="1422.6" y="1315.21" width="25.29" height="25.29" fill="#be2e28"/>
<rect x="1450.74" y="1315.21" width="25.29" height="25.29" fill="#be2e28"/>
<rect x="1478.89" y="1315.21" width="25.29" height="25.29" fill="#b2221f"/>
<rect x="1507.03" y="1315.21" width="25.29" height="25.29" fill="#d04b3a"/>
<rect x="522.02" y="1343.35" width="25.29" height="25.29" fill="#93a3da"/>
<rect x="550.17" y="1343.35" width="25.29" height="25.29" fill="#4e4eab"/>
<rect x="578.31" y="1343.35" width="25.29" height="25.29" fill="#f6d7c7"/>
<rect x="606.45" y="1343.35" width="25.29" height="25.29" fill="#fdccb5"/>
<rect x="634.6" y="1343.35" width="25.29" height="25.29" fill="#b2221f"/>
<rect x="662.74" y="1343.35" width="25.29" height="25.29" fill="#fa9471"/>
<rect x="690.88" y="1343.35" width="25.29" height="25.29" fill="#fca786"/>
<rect x="719.03" y="1343.35" width="25.29" height="25.29" fill="#fa9471"/>
<rect x="747.17" y="1343.35" width="25.29" height="25.29" fill="#d04b3a"/>
<rect x="775.31" y="1343.35" width="25.29" height="25.29" fill="#b2221f"/>
<rect x="803.45" y="1343.35" width="25.29" height="25.29" fill="#d04b3a"/>
<rect x="831.6" y="1343.35" width="25.29" height="25.29" fill="#e06148"/>
<rect x="859.74" y="1343.35" width="25.29" height="25.29" fill="#d04b3a"/>
<rect x="887.88" y="1343.35" width="25.29" height="25.29" fill="#d04b3a"/>
<rect x="916.03" y="1343.35" width="25.29" height="25.29" fill="#e06148"/>
<rect x="944.17" y="1343.35" width="25.29" height="25.29" fill="#e06148"/>
<rect x="972.31" y="1343.35" width="25.29" height="25.29" fill="#ef7b5a"/>
<rect x="1000.46" y="1343.35" width="25.29" height="25.29" fill="#d04b3a"/>
<rect x="1028.6" y="1343.35" width="25.29" height="25.29" fill="#be2e28"/>
<rect x="1056.74" y="1343.35" width="25.29" height="25.29" fill="#b2221f"/>
<rect x="1084.88" y="1343.35" width="25.29" height="25.29" fill="#b2221f"/>
<rect x="1113.03" y="1343.35" width="25.29" height="25.29" fill="#b2221f"/>
<rect x="1141.17" y="1343.35" width="25.29" height="25.29" fill="#b2221f"/>
<rect x="1169.31" y="1343.35" width="25.29" height="25.29" fill="#b2221f"/>
<rect x="1197.46" y="1343.35" width="25.29" height="25.29" fill="#b2221f"/>
<rect x="1225.6" y="1343.35" width="25.29" height="25.29" fill="#b2221f"/>
<rect x="1253.74" y="1343.35" width="25.29" height="25.29" fill="#b2221f"/>
<rect x="1281.89" y="1343.35" width="25.29" height="25.29" fill="#b2221f"/>
<rect x="1310.03" y="1343.35" width="25.29" height="25.29" fill="#d04b3a"/>
<rect x="1338.17" y="1343.35" width="25.29" height="25.29" fill="#b2221f"/>
<rect x="1366.31" y="1343.35" width="25.29" height="25.29" fill="#b2221f"/>
<rect x="1394.46" y="1343.35" width="25.29" height="25.29" fill="#b2221f"/>
<rect x="1422.6" y="1343.35" width="25.29" height="25.29" fill="#e4e2e2"/>
<rect x="1450.74" y="1343.35" width="25.29" height="25.29" fill="#b2221f"/>
<rect x="1478.89" y="1343.35" width="25.29" height="25.29" fill="#b2221f"/>
<rect x="1507.03" y="1343.35" width="25.29" height="25.29" fill="#b2221f"/>
<rect x="522.02" y="1371.5" width="25.29" height="25.29" fill="#6570bf"/>
<rect x="550.17" y="1371.5" width="25.29" height="25.29" fill="#4e4eab"/>
<rect x="578.31" y="1371.5" width="25.29" height="25.29" fill="#a7b7e4"/>
<rect x="606.45" y="1371.5" width="25.29" height="25.29" fill="#a7b7e4"/>
<rect x="634.6" y="1371.5" width="25.29" height="25.29" fill="#fdbb9d"/>
<rect x="662.74" y="1371.5" width="25.29" height="25.29" fill="#fdccb5"/>
<rect x="690.88" y="1371.5" width="25.29" height="25.29" fill="#c7d5f0"/>
<rect x="719.03" y="1371.5" width="25.29" height="25.29" fill="#e4e2e2"/>
<rect x="747.17" y="1371.5" width="25.29" height="25.29" fill="#d5dff5"/>
<rect x="775.31" y="1371.5" width="25.29" height="25.29" fill="#dee2ee"/>
<rect x="803.45" y="1371.5" width="25.29" height="25.29" fill="#ebdfd8"/>
<rect x="831.6" y="1371.5" width="25.29" height="25.29" fill="#ebdfd8"/>
<rect x="859.74" y="1371.5" width="25.29" height="25.29" fill="#ebdfd8"/>
<rect x="887.88" y="1371.5" width="25.29" height="25.29" fill="#e4e2e2"/>
<rect x="916.03" y="1371.5" width="25.29" height="25.29" fill="#d5dff5"/>
<rect x="944.17" y="1371.5" width="25.29" height="25.29" fill="#dee2ee"/>
<rect x="972.31" y="1371.5" width="25.29" height="25.29" fill="#dee2ee"/>
<rect x="1000.46" y="1371.5" width="25.29" height="25.29" fill="#e4e2e2"/>
<rect x="1028.6" y="1371.5" width="25.29" height="25.29" fill="#dee2ee"/>
<rect x="1056.74" y="1371.5" width="25.29" height="25.29" fill="#ef7b5a"/>
<rect x="1084.88" y="1371.5" width="25.29" height="25.29" fill="#fca786"/>
<rect x="1113.03" y="1371.5" width="25.29" height="25.29" fill="#e4e2e2"/>
<rect x="1141.17" y="1371.5" width="25.29" height="25.29" fill="#ef7b5a"/>
<rect x="1169.31" y="1371.5" width="25.29" height="25.29" fill="#fdbb9d"/>
<rect x="1197.46" y="1371.5" width="25.29" height="25.29" fill="#e4e2e2"/>
<rect x="1225.6" y="1371.5" width="25.29" height="25.29" fill="#fdccb5"/>
<rect x="1253.74" y="1371.5" width="25.29" height="25.29" fill="#f6d7c7"/>
<rect x="1281.89" y="1371.5" width="25.29" height="25.29" fill="#ebdfd8"/>
<rect x="1310.03" y="1371.5" width="25.29" height="25.29" fill="#ebdfd8"/>
<rect x="1338.17" y="1371.5" width="25.29" height="25.29" fill="#fdccb5"/>
<rect x="1366.31" y="1371.5" width="25.29" height="25.29" fill="#fca786"/>
<rect x="1394.46" y="1371.5" width="25.29" height="25.29" fill="#be2e28"/>
<rect x="1422.6" y="1371.5" width="25.29" height="25.29" fill="#b2221f"/>
<rect x="1450.74" y="1371.5" width="25.29" height="25.29" fill="#fa9471"/>
<rect x="1478.89" y="1371.5" width="25.29" height="25.29" fill="#fca786"/>
<rect x="1507.03" y="1371.5" width="25.29" height="25.29" fill="#b2221f"/>
<rect x="522.02" y="1399.64" width="25.29" height="25.29" fill="#a7b7e4"/>
<rect x="550.17" y="1399.64" width="25.29" height="25.29" fill="#6570bf"/>
<rect x="578.31" y="1399.64" width="25.29" height="25.29" fill="#d5dff5"/>
<rect x="606.45" y="1399.64" width="25.29" height="25.29" fill="#c7d5f0"/>
<rect x="634.6" y="1399.64" width="25.29" height="25.29" fill="#f6d7c7"/>
<rect x="662.74" y="1399.64" width="25.29" height="25.29" fill="#fdccb5"/>
<rect x="690.88" y="1399.64" width="25.29" height="25.29" fill="#dee2ee"/>
<rect x="719.03" y="1399.64" width="25.29" height="25.29" fill="#e4e2e2"/>
<rect x="747.17" y="1399.64" width="25.29" height="25.29" fill="#ebdfd8"/>
<rect x="775.31" y="1399.64" width="25.29" height="25.29" fill="#fdccb5"/>
<rect x="803.45" y="1399.64" width="25.29" height="25.29" fill="#fdccb5"/>
<rect x="831.6" y="1399.64" width="25.29" height="25.29" fill="#ebdfd8"/>
<rect x="859.74" y="1399.64" width="25.29" height="25.29" fill="#f6d7c7"/>
<rect x="887.88" y="1399.64" width="25.29" height="25.29" fill="#dee2ee"/>
<rect x="916.03" y="1399.64" width="25.29" height="25.29" fill="#ebdfd8"/>
<rect x="944.17" y="1399.64" width="25.29" height="25.29" fill="#ebdfd8"/>
<rect x="972.31" y="1399.64" width="25.29" height="25.29" fill="#e4e2e2"/>
<rect x="1000.46" y="1399.64" width="25.29" height="25.29" fill="#e4e2e2"/>
<rect x="1028.6" y="1399.64" width="25.29" height="25.29" fill="#e4e2e2"/>
<rect x="1056.74" y="1399.64" width="25.29" height="25.29" fill="#e06148"/>
<rect x="1084.88" y="1399.64" width="25.29" height="25.29" fill="#e06148"/>
<rect x="1113.03" y="1399.64" width="25.29" height="25.29" fill="#fdbb9d"/>
<rect x="1141.17" y="1399.64" width="25.29" height="25.29" fill="#fdccb5"/>
<rect x="1169.31" y="1399.64" width="25.29" height="25.29" fill="#fdccb5"/>
<rect x="1197.46" y="1399.64" width="25.29" height="25.29" fill="#fdccb5"/>
<rect x="1225.6" y="1399.64" width="25.29" height="25.29" fill="#fdbb9d"/>
<rect x="1253.74" y="1399.64" width="25.29" height="25.29" fill="#fdbb9d"/>
<rect x="1281.89" y="1399.64" width="25.29" height="25.29" fill="#fdccb5"/>
<rect x="1310.03" y="1399.64" width="25.29" height="25.29" fill="#fdccb5"/>
<rect x="1338.17" y="1399.64" width="25.29" height="25.29" fill="#fa9471"/>
<rect x="1366.31" y="1399.64" width="25.29" height="25.29" fill="#fca786"/>
<rect x="1394.46" y="1399.64" width="25.29" height="25.29" fill="#d04b3a"/>
<rect x="1422.6" y="1399.64" width="25.29" height="25.29" fill="#d04b3a"/>
<rect x="1450.74" y="1399.64" width="25.29" height="25.29" fill="#e4e2e2"/>
<rect x="1478.89" y="1399.64" width="25.29" height="25.29" fill="#be2e28"/>
<rect x="1507.03" y="1399.64" width="25.29" height="25.29" fill="#b2221f"/>
<rect x="522.02" y="1427.78" width="25.29" height="25.29" fill="#7d8bcd"/>
<rect x="550.17" y="1427.78" width="25.29" height="25.29" fill="#575cb3"/>
<rect x="578.31" y="1427.78" width="25.29" height="25.29" fill="#dee2ee"/>
<rect x="606.45" y="1427.78" width="25.29" height="25.29" fill="#dee2ee"/>
<rect x="634.6" y="1427.78" width="25.29" height="25.29" fill="#e4e2e2"/>
<rect x="662.74" y="1427.78" width="25.29" height="25.29" fill="#fdccb5"/>
<rect x="690.88" y="1427.78" width="25.29" height="25.29" fill="#e4e2e2"/>
<rect x="719.03" y="1427.78" width="25.29" height="25.29" fill="#e4e2e2"/>
<rect x="747.17" y="1427.78" width="25.29" height="25.29" fill="#d5dff5"/>
<rect x="775.31" y="1427.78" width="25.29" height="25.29" fill="#e4e2e2"/>
<rect x="803.45" y="1427.78" width="25.29" height="25.29" fill="#dee2ee"/>
<rect x="831.6" y="1427.78" width="25.29" height="25.29" fill="#e4e2e2"/>
<rect x="859.74" y="1427.78" width="25.29" height="25.29" fill="#dee2ee"/>
<rect x="887.88" y="1427.78" width="25.29" height="25.29" fill="#d5dff5"/>
<rect x="916.03" y="1427.78" width="25.29" height="25.29" fill="#dee2ee"/>
<rect x="944.17" y="1427.78" width="25.29" height="25.29" fill="#dee2ee"/>
<rect x="972.31" y="1427.78" width="25.29" height="25.29" fill="#dee2ee"/>
<rect x="1000.46" y="1427.78" width="25.29" height="25.29" fill="#d5dff5"/>
<rect x="1028.6" y="1427.78" width="25.29" height="25.29" fill="#e4e2e2"/>
<rect x="1056.74" y="1427.78" width="25.29" height="25.29" fill="#fca786"/>
<rect x="1084.88" y="1427.78" width="25.29" height="25.29" fill="#fca786"/>
<rect x="1113.03" y="1427.78" width="25.29" height="25.29" fill="#ebdfd8"/>
<rect x="1141.17" y="1427.78" width="25.29" height="25.29" fill="#fdbb9d"/>
<rect x="1169.31" y="1427.78" width="25.29" height="25.29" fill="#fdccb5"/>
<rect x="1197.46" y="1427.78" width="25.29" height="25.29" fill="#fca786"/>
<rect x="1225.6" y="1427.78" width="25.29" height="25.29" fill="#f6d7c7"/>
<rect x="1253.74" y="1427.78" width="25.29" height="25.29" fill="#fdccb5"/>
<rect x="1281.89" y="1427.78" width="25.29" height="25.29" fill="#fdccb5"/>
<rect x="1310.03" y="1427.78" width="25.29" height="25.29" fill="#fdccb5"/>
<rect x="1338.17" y="1427.78" width="25.29" height="25.29" fill="#fa9471"/>
<rect x="1366.31" y="1427.78" width="25.29" height="25.29" fill="#be2e28"/>
<rect x="1394.46" y="1427.78" width="25.29" height="25.29" fill="#e06148"/>
<rect x="1422.6" y="1427.78" width="25.29" height="25.29" fill="#b2221f"/>
<rect x="1450.74" y="1427.78" width="25.29" height="25.29" fill="#fca786"/>
<rect x="1478.89" y="1427.78" width="25.29" height="25.29" fill="#d04b3a"/>
<rect x="1507.03" y="1427.78" width="25.29" height="25.29" fill="#b2221f"/>
<rect x="522.02" y="1455.93" width="25.29" height="25.29" fill="#a7b7e4"/>
<rect x="550.17" y="1455.93" width="25.29" height="25.29" fill="#575cb3"/>
<rect x="578.31" y="1455.93" width="25.29" height="25.29" fill="#ebdfd8"/>
<rect x="606.45" y="1455.93" width="25.29" height="25.29" fill="#d5dff5"/>
<rect x="634.6" y="1455.93" width="25.29" height="25.29" fill="#fca786"/>
<rect x="662.74" y="1455.93" width="25.29" height="25.29" fill="#ebdfd8"/>
<rect x="690.88" y="1455.93" width="25.29" height="25.29" fill="#f6d7c7"/>
<rect x="719.03" y="1455.93" width="25.29" height="25.29" fill="#fdccb5"/>
<rect x="747.17" y="1455.93" width="25.29" height="25.29" fill="#fdccb5"/>
<rect x="775.31" y="1455.93" width="25.29" height="25.29" fill="#fca786"/>
<rect x="803.45" y="1455.93" width="25.29" height="25.29" fill="#fdccb5"/>
<rect x="831.6" y="1455.93" width="25.29" height="25.29" fill="#fdbb9d"/>
<rect x="859.74" y="1455.93" width="25.29" height="25.29" fill="#fdbb9d"/>
<rect x="887.88" y="1455.93" width="25.29" height="25.29" fill="#ebdfd8"/>
<rect x="916.03" y="1455.93" width="25.29" height="25.29" fill="#fdccb5"/>
<rect x="944.17" y="1455.93" width="25.29" height="25.29" fill="#fdccb5"/>
<rect x="972.31" y="1455.93" width="25.29" height="25.29" fill="#f6d7c7"/>
<rect x="1000.46" y="1455.93" width="25.29" height="25.29" fill="#f6d7c7"/>
<rect x="1028.6" y="1455.93" width="25.29" height="25.29" fill="#fdccb5"/>
<rect x="1056.74" y="1455.93" width="25.29" height="25.29" fill="#fa9471"/>
<rect x="1084.88" y="1455.93" width="25.29" height="25.29" fill="#fa9471"/>
<rect x="1113.03" y="1455.93" width="25.29" height="25.29" fill="#fdccb5"/>
<rect x="1141.17" y="1455.93" width="25.29" height="25.29" fill="#fdbb9d"/>
<rect x="1169.31" y="1455.93" width="25.29" height="25.29" fill="#fca786"/>
<rect x="1197.46" y="1455.93" width="25.29" height="25.29" fill="#fdccb5"/>
<rect x="1225.6" y="1455.93" width="25.29" height="25.29" fill="#fdbb9d"/>
<rect x="1253.74" y="1455.93" width="25.29" height="25.29" fill="#fca786"/>
<rect x="1281.89" y="1455.93" width="25.29" height="25.29" fill="#fdbb9d"/>
<rect x="1310.03" y="1455.93" width="25.29" height="25.29" fill="#fa9471"/>
<rect x="1338.17" y="1455.93" width="25.29" height="25.29" fill="#fca786"/>
<rect x="1366.31" y="1455.93" width="25.29" height="25.29" fill="#ef7b5a"/>
<rect x="1394.46" y="1455.93" width="25.29" height="25.29" fill="#d04b3a"/>
<rect x="1422.6" y="1455.93" width="25.29" height="25.29" fill="#b2221f"/>
<rect x="1450.74" y="1455.93" width="25.29" height="25.29" fill="#d04b3a"/>
<rect x="1478.89" y="1455.93" width="25.29" height="25.29" fill="#e4e2e2"/>
<rect x="1507.03" y="1455.93" width="25.29" height="25.29" fill="#7d8bcd"/>
<rect x="522.02" y="1484.07" width="25.29" height="25.29" fill="#c7d5f0"/>
<rect x="550.17" y="1484.07" width="25.29" height="25.29" fill="#93a3da"/>
<rect x="578.31" y="1484.07" width="25.29" height="25.29" fill="#f6d7c7"/>
<rect x="606.45" y="1484.07" width="25.29" height="25.29" fill="#ebdfd8"/>
<rect x="634.6" y="1484.07" width="25.29" height="25.29" fill="#e06148"/>
<rect x="662.74" y="1484.07" width="25.29" height="25.29" fill="#fca786"/>
<rect x="690.88" y="1484.07" width="25.29" height="25.29" fill="#f6d7c7"/>
<rect x="719.03" y="1484.07" width="25.29" height="25.29" fill="#fdccb5"/>
<rect x="747.17" y="1484.07" width="25.29" height="25.29" fill="#ebdfd8"/>
<rect x="775.31" y="1484.07" width="25.29" height="25.29" fill="#f6d7c7"/>
<rect x="803.45" y="1484.07" width="25.29" height="25.29" fill="#fdbb9d"/>
<rect x="831.6" y="1484.07" width="25.29" height="25.29" fill="#fdbb9d"/>
<rect x="859.74" y="1484.07" width="25.29" height="25.29" fill="#fdccb5"/>
<rect x="887.88" y="1484.07" width="25.29" height="25.29" fill="#fdccb5"/>
<rect x="916.03" y="1484.07" width="25.29" height="25.29" fill="#fdccb5"/>
<rect x="944.17" y="1484.07" width="25.29" height="25.29" fill="#fdccb5"/>
<rect x="972.31" y="1484.07" width="25.29" height="25.29" fill="#fdccb5"/>
<rect x="1000.46" y="1484.07" width="25.29" height="25.29" fill="#fdccb5"/>
<rect x="1028.6" y="1484.07" width="25.29" height="25.29" fill="#fdccb5"/>
<rect x="1056.74" y="1484.07" width="25.29" height="25.29" fill="#e4e2e2"/>
<rect x="1084.88" y="1484.07" width="25.29" height="25.29" fill="#e4e2e2"/>
<rect x="1113.03" y="1484.07" width="25.29" height="25.29" fill="#fdbb9d"/>
<rect x="1141.17" y="1484.07" width="25.29" height="25.29" fill="#ef7b5a"/>
<rect x="1169.31" y="1484.07" width="25.29" height="25.29" fill="#e06148"/>
<rect x="1197.46" y="1484.07" width="25.29" height="25.29" fill="#e06148"/>
<rect x="1225.6" y="1484.07" width="25.29" height="25.29" fill="#ef7b5a"/>
<rect x="1253.74" y="1484.07" width="25.29" height="25.29" fill="#fa9471"/>
<rect x="1281.89" y="1484.07" width="25.29" height="25.29" fill="#fca786"/>
<rect x="1310.03" y="1484.07" width="25.29" height="25.29" fill="#fca786"/>
<rect x="1338.17" y="1484.07" width="25.29" height="25.29" fill="#ef7b5a"/>
<rect x="1366.31" y="1484.07" width="25.29" height="25.29" fill="#fa9471"/>
<rect x="1394.46" y="1484.07" width="25.29" height="25.29" fill="#b2221f"/>
<rect x="1422.6" y="1484.07" width="25.29" height="25.29" fill="#b2221f"/>
<rect x="1450.74" y="1484.07" width="25.29" height="25.29" fill="#d04b3a"/>
<rect x="1478.89" y="1484.07" width="25.29" height="25.29" fill="#ef7b5a"/>
<rect x="1507.03" y="1484.07" width="25.29" height="25.29" fill="#e4e2e2"/>
<rect x="522.02" y="1512.21" width="25.29" height="25.29" fill="#7d8bcd"/>
<rect x="550.17" y="1512.21" width="25.29" height="25.29" fill="#575cb3"/>
<rect x="578.31" y="1512.21" width="25.29" height="25.29" fill="#dee2ee"/>
<rect x="606.45" y="1512.21" width="25.29" height="25.29" fill="#dee2ee"/>
<rect x="634.6" y="1512.21" width="25.29" height="25.29" fill="#e06148"/>
<rect x="662.74" y="1512.21" width="25.29" height="25.29" fill="#ebdfd8"/>
<rect x="690.88" y="1512.21" width="25.29" height="25.29" fill="#e4e2e2"/>
<rect x="719.03" y="1512.21" width="25.29" height="25.29" fill="#ebdfd8"/>
<rect x="747.17" y="1512.21" width="25.29" height="25.29" fill="#e4e2e2"/>
<rect x="775.31" y="1512.21" width="25.29" height="25.29" fill="#f6d7c7"/>
<rect x="803.45" y="1512.21" width="25.29" height="25.29" fill="#fdccb5"/>
<rect x="831.6" y="1512.21" width="25.29" height="25.29" fill="#fdccb5"/>
<rect x="859.74" y="1512.21" width="25.29" height="25.29" fill="#f6d7c7"/>
<rect x="887.88" y="1512.21" width="25.29" height="25.29" fill="#ebdfd8"/>
<rect x="916.03" y="1512.21" width="25.29" height="25.29" fill="#ebdfd8"/>
<rect x="944.17" y="1512.21" width="25.29" height="25.29" fill="#ebdfd8"/>
<rect x="972.31" y="1512.21" width="25.29" height="25.29" fill="#ebdfd8"/>
<rect x="1000.46" y="1512.21" width="25.29" height="25.29" fill="#f6d7c7"/>
<rect x="1028.6" y="1512.21" width="25.29" height="25.29" fill="#f6d7c7"/>
<rect x="1056.74" y="1512.21" width="25.29" height="25.29" fill="#fdbb9d"/>
<rect x="1084.88" y="1512.21" width="25.29" height="25.29" fill="#fdbb9d"/>
<rect x="1113.03" y="1512.21" width="25.29" height="25.29" fill="#ef7b5a"/>
<rect x="1141.17" y="1512.21" width="25.29" height="25.29" fill="#f6d7c7"/>
<rect x="1169.31" y="1512.21" width="25.29" height="25.29" fill="#fdbb9d"/>
<rect x="1197.46" y="1512.21" width="25.29" height="25.29" fill="#fdbb9d"/>
<rect x="1225.6" y="1512.21" width="25.29" height="25.29" fill="#f6d7c7"/>
<rect x="1253.74" y="1512.21" width="25.29" height="25.29" fill="#fdccb5"/>
<rect x="1281.89" y="1512.21" width="25.29" height="25.29" fill="#fdbb9d"/>
<rect x="1310.03" y="1512.21" width="25.29" height="25.29" fill="#fca786"/>
<rect x="1338.17" y="1512.21" width="25.29" height="25.29" fill="#fa9471"/>
<rect x="1366.31" y="1512.21" width="25.29" height="25.29" fill="#e4e2e2"/>
<rect x="1394.46" y="1512.21" width="25.29" height="25.29" fill="#b2221f"/>
<rect x="1422.6" y="1512.21" width="25.29" height="25.29" fill="#b2221f"/>
<rect x="1450.74" y="1512.21" width="25.29" height="25.29" fill="#e06148"/>
<rect x="1478.89" y="1512.21" width="25.29" height="25.29" fill="#d04b3a"/>
<rect x="1507.03" y="1512.21" width="25.29" height="25.29" fill="#fca786"/>
<rect x="522.02" y="1540.36" width="25.29" height="25.29" fill="#a7b7e4"/>
<rect x="550.17" y="1540.36" width="25.29" height="25.29" fill="#6570bf"/>
<rect x="578.31" y="1540.36" width="25.29" height="25.29" fill="#ebdfd8"/>
<rect x="606.45" y="1540.36" width="25.29" height="25.29" fill="#dee2ee"/>
<rect x="634.6" y="1540.36" width="25.29" height="25.29" fill="#fdbb9d"/>
<rect x="662.74" y="1540.36" width="25.29" height="25.29" fill="#f6d7c7"/>
<rect x="690.88" y="1540.36" width="25.29" height="25.29" fill="#ebdfd8"/>
<rect x="719.03" y="1540.36" width="25.29" height="25.29" fill="#ebdfd8"/>
<rect x="747.17" y="1540.36" width="25.29" height="25.29" fill="#e4e2e2"/>
<rect x="775.31" y="1540.36" width="25.29" height="25.29" fill="#fdccb5"/>
<rect x="803.45" y="1540.36" width="25.29" height="25.29" fill="#f6d7c7"/>
<rect x="831.6" y="1540.36" width="25.29" height="25.29" fill="#fdccb5"/>
<rect x="859.74" y="1540.36" width="25.29" height="25.29" fill="#f6d7c7"/>
<rect x="887.88" y="1540.36" width="25.29" height="25.29" fill="#e4e2e2"/>
<rect x="916.03" y="1540.36" width="25.29" height="25.29" fill="#f6d7c7"/>
<rect x="944.17" y="1540.36" width="25.29" height="25.29" fill="#f6d7c7"/>
<rect x="972.31" y="1540.36" width="25.29" height="25.29" fill="#ebdfd8"/>
<rect x="1000.46" y="1540.36" width="25.29" height="25.29" fill="#ebdfd8"/>
<rect x="1028.6" y="1540.36" width="25.29" height="25.29" fill="#e4e2e2"/>
<rect x="1056.74" y="1540.36" width="25.29" height="25.29" fill="#e4e2e2"/>
<rect x="1084.88" y="1540.36" width="25.29" height="25.29" fill="#fdbb9d"/>
<rect x="1113.03" y="1540.36" width="25.29" height="25.29" fill="#fdccb5"/>
<rect x="1141.17" y="1540.36" width="25.29" height="25.29" fill="#fdbb9d"/>
<rect x="1169.31" y="1540.36" width="25.29" height="25.29" fill="#fca786"/>
<rect x="1197.46" y="1540.36" width="25.29" height="25.29" fill="#fca786"/>
<rect x="1225.6" y="1540.36" width="25.29" height="25.29" fill="#fca786"/>
<rect x="1253.74" y="1540.36" width="25.29" height="25.29" fill="#fca786"/>
<rect x="1281.89" y="1540.36" width="25.29" height="25.29" fill="#fdccb5"/>
<rect x="1310.03" y="1540.36" width="25.29" height="25.29" fill="#fdbb9d"/>
<rect x="1338.17" y="1540.36" width="25.29" height="25.29" fill="#fca786"/>
<rect x="1366.31" y="1540.36" width="25.29" height="25.29" fill="#fca786"/>
<rect x="1394.46" y="1540.36" width="25.29" height="25.29" fill="#b2221f"/>
<rect x="1422.6" y="1540.36" width="25.29" height="25.29" fill="#b2221f"/>
<rect x="1450.74" y="1540.36" width="25.29" height="25.29" fill="#ef7b5a"/>
<rect x="1478.89" y="1540.36" width="25.29" height="25.29" fill="#fca786"/>
<rect x="1507.03" y="1540.36" width="25.29" height="25.29" fill="#fdbb9d"/>
<rect x="522.02" y="1568.5" width="25.29" height="25.29" fill="#a7b7e4"/>
<rect x="550.17" y="1568.5" width="25.29" height="25.29" fill="#6570bf"/>
<rect x="578.31" y="1568.5" width="25.29" height="25.29" fill="#dee2ee"/>
<rect x="606.45" y="1568.5" width="25.29" height="25.29" fill="#dee2ee"/>
<rect x="634.6" y="1568.5" width="25.29" height="25.29" fill="#fdbb9d"/>
<rect x="662.74" y="1568.5" width="25.29" height="25.29" fill="#ebdfd8"/>
<rect x="690.88" y="1568.5" width="25.29" height="25.29" fill="#dee2ee"/>
<rect x="719.03" y="1568.5" width="25.29" height="25.29" fill="#ebdfd8"/>
<rect x="747.17" y="1568.5" width="25.29" height="25.29" fill="#d5dff5"/>
<rect x="775.31" y="1568.5" width="25.29" height="25.29" fill="#ebdfd8"/>
<rect x="803.45" y="1568.5" width="25.29" height="25.29" fill="#fdccb5"/>
<rect x="831.6" y="1568.5" width="25.29" height="25.29" fill="#f6d7c7"/>
<rect x="859.74" y="1568.5" width="25.29" height="25.29" fill="#ebdfd8"/>
<rect x="887.88" y="1568.5" width="25.29" height="25.29" fill="#f6d7c7"/>
<rect x="916.03" y="1568.5" width="25.29" height="25.29" fill="#ebdfd8"/>
<rect x="944.17" y="1568.5" width="25.29" height="25.29" fill="#ebdfd8"/>
<rect x="972.31" y="1568.5" width="25.29" height="25.29" fill="#ebdfd8"/>
<rect x="1000.46" y="1568.5" width="25.29" height="25.29" fill="#ebdfd8"/>
<rect x="1028.6" y="1568.5" width="25.29" height="25.29" fill="#ebdfd8"/>
<rect x="1056.74" y="1568.5" width="25.29" height="25.29" fill="#fdbb9d"/>
<rect x="1084.88" y="1568.5" width="25.29" height="25.29" fill="#e4e2e2"/>
<rect x="1113.03" y="1568.5" width="25.29" height="25.29" fill="#ebdfd8"/>
<rect x="1141.17" y="1568.5" width="25.29" height="25.29" fill="#fdbb9d"/>
<rect x="1169.31" y="1568.5" width="25.29" height="25.29" fill="#fa9471"/>
<rect x="1197.46" y="1568.5" width="25.29" height="25.29" fill="#fdbb9d"/>
<rect x="1225.6" y="1568.5" width="25.29" height="25.29" fill="#fdbb9d"/>
<rect x="1253.74" y="1568.5" width="25.29" height="25.29" fill="#fdbb9d"/>
<rect x="1281.89" y="1568.5" width="25.29" height="25.29" fill="#fdccb5"/>
<rect x="1310.03" y="1568.5" width="25.29" height="25.29" fill="#fdbb9d"/>
<rect x="1338.17" y="1568.5" width="25.29" height="25.29" fill="#fa9471"/>
<rect x="1366.31" y="1568.5" width="25.29" height="25.29" fill="#fdbb9d"/>
<rect x="1394.46" y="1568.5" width="25.29" height="25.29" fill="#b2221f"/>
<rect x="1422.6" y="1568.5" width="25.29" height="25.29" fill="#b2221f"/>
<rect x="1450.74" y="1568.5" width="25.29" height="25.29" fill="#fa9471"/>
<rect x="1478.89" y="1568.5" width="25.29" height="25.29" fill="#fa9471"/>
<rect x="1507.03" y="1568.5" width="25.29" height="25.29" fill="#fdbb9d"/>
<rect x="522.02" y="1596.64" width="25.29" height="25.29" fill="#4e4eab"/>
<rect x="550.17" y="1596.64" width="25.29" height="25.29" fill="#4e4eab"/>
<rect x="578.31" y="1596.64" width="25.29" height="25.29" fill="#b6c6ea"/>
<rect x="606.45" y="1596.64" width="25.29" height="25.29" fill="#a7b7e4"/>
<rect x="634.6" y="1596.64" width="25.29" height="25.29" fill="#b6c6ea"/>
<rect x="662.74" y="1596.64" width="25.29" height="25.29" fill="#a7b7e4"/>
<rect x="690.88" y="1596.64" width="25.29" height="25.29" fill="#e4e2e2"/>
<rect x="719.03" y="1596.64" width="25.29" height="25.29" fill="#f6d7c7"/>
<rect x="747.17" y="1596.64" width="25.29" height="25.29" fill="#b6c6ea"/>
<rect x="775.31" y="1596.64" width="25.29" height="25.29" fill="#d5dff5"/>
<rect x="803.45" y="1596.64" width="25.29" height="25.29" fill="#b6c6ea"/>
<rect x="831.6" y="1596.64" width="25.29" height="25.29" fill="#d5dff5"/>
<rect x="859.74" y="1596.64" width="25.29" height="25.29" fill="#c7d5f0"/>
<rect x="887.88" y="1596.64" width="25.29" height="25.29" fill="#a7b7e4"/>
<rect x="916.03" y="1596.64" width="25.29" height="25.29" fill="#a7b7e4"/>
<rect x="944.17" y="1596.64" width="25.29" height="25.29" fill="#a7b7e4"/>
<rect x="972.31" y="1596.64" width="25.29" height="25.29" fill="#b6c6ea"/>
<rect x="1000.46" y="1596.64" width="25.29" height="25.29" fill="#b6c6ea"/>
<rect x="1028.6" y="1596.64" width="25.29" height="25.29" fill="#a7b7e4"/>
<rect x="1056.74" y="1596.64" width="25.29" height="25.29" fill="#e4e2e2"/>
<rect x="1084.88" y="1596.64" width="25.29" height="25.29" fill="#ebdfd8"/>
<rect x="1113.03" y="1596.64" width="25.29" height="25.29" fill="#dee2ee"/>
<rect x="1141.17" y="1596.64" width="25.29" height="25.29" fill="#c7d5f0"/>
<rect x="1169.31" y="1596.64" width="25.29" height="25.29" fill="#dee2ee"/>
<rect x="1197.46" y="1596.64" width="25.29" height="25.29" fill="#d5dff5"/>
<rect x="1225.6" y="1596.64" width="25.29" height="25.29" fill="#dee2ee"/>
<rect x="1253.74" y="1596.64" width="25.29" height="25.29" fill="#dee2ee"/>
<rect x="1281.89" y="1596.64" width="25.29" height="25.29" fill="#b6c6ea"/>
<rect x="1310.03" y="1596.64" width="25.29" height="25.29" fill="#d5dff5"/>
<rect x="1338.17" y="1596.64" width="25.29" height="25.29" fill="#ebdfd8"/>
<rect x="1366.31" y="1596.64" width="25.29" height="25.29" fill="#d5dff5"/>
<rect x="1394.46" y="1596.64" width="25.29" height="25.29" fill="#ebdfd8"/>
<rect x="1422.6" y="1596.64" width="25.29" height="25.29" fill="#f6d7c7"/>
<rect x="1450.74" y="1596.64" width="25.29" height="25.29" fill="#f6d7c7"/>
<rect x="1478.89" y="1596.64" width="25.29" height="25.29" fill="#fdccb5"/>
<rect x="1507.03" y="1596.64" width="25.29" height="25.29" fill="#fdbb9d"/>
<rect x="522.02" y="1624.78" width="25.29" height="25.29" fill="#4e4eab"/>
<rect x="550.17" y="1624.78" width="25.29" height="25.29" fill="#4e4eab"/>
<rect x="578.31" y="1624.78" width="25.29" height="25.29" fill="#a7b7e4"/>
<rect x="606.45" y="1624.78" width="25.29" height="25.29" fill="#a7b7e4"/>
<rect x="634.6" y="1624.78" width="25.29" height="25.29" fill="#b6c6ea"/>
<rect x="662.74" y="1624.78" width="25.29" height="25.29" fill="#a7b7e4"/>
<rect x="690.88" y="1624.78" width="25.29" height="25.29" fill="#ebdfd8"/>
<rect x="719.03" y="1624.78" width="25.29" height="25.29" fill="#e4e2e2"/>
<rect x="747.17" y="1624.78" width="25.29" height="25.29" fill="#c7d5f0"/>
<rect x="775.31" y="1624.78" width="25.29" height="25.29" fill="#d5dff5"/>
<rect x="803.45" y="1624.78" width="25.29" height="25.29" fill="#dee2ee"/>
<rect x="831.6" y="1624.78" width="25.29" height="25.29" fill="#d5dff5"/>
<rect x="859.74" y="1624.78" width="25.29" height="25.29" fill="#d5dff5"/>
<rect x="887.88" y="1624.78" width="25.29" height="25.29" fill="#a7b7e4"/>
<rect x="916.03" y="1624.78" width="25.29" height="25.29" fill="#a7b7e4"/>
<rect x="944.17" y="1624.78" width="25.29" height="25.29" fill="#a7b7e4"/>
<rect x="972.31" y="1624.78" width="25.29" height="25.29" fill="#c7d5f0"/>
<rect x="1000.46" y="1624.78" width="25.29" height="25.29" fill="#b6c6ea"/>
<rect x="1028.6" y="1624.78" width="25.29" height="25.29" fill="#b6c6ea"/>
<rect x="1056.74" y="1624.78" width="25.29" height="25.29" fill="#ebdfd8"/>
<rect x="1084.88" y="1624.78" width="25.29" height="25.29" fill="#f6d7c7"/>
<rect x="1113.03" y="1624.78" width="25.29" height="25.29" fill="#d5dff5"/>
<rect x="1141.17" y="1624.78" width="25.29" height="25.29" fill="#d5dff5"/>
<rect x="1169.31" y="1624.78" width="25.29" height="25.29" fill="#e4e2e2"/>
<rect x="1197.46" y="1624.78" width="25.29" height="25.29" fill="#dee2ee"/>
<rect x="1225.6" y="1624.78" width="25.29" height="25.29" fill="#dee2ee"/>
<rect x="1253.74" y="1624.78" width="25.29" height="25.29" fill="#e4e2e2"/>
<rect x="1281.89" y="1624.78" width="25.29" height="25.29" fill="#d5dff5"/>
<rect x="1310.03" y="1624.78" width="25.29" height="25.29" fill="#dee2ee"/>
<rect x="1338.17" y="1624.78" width="25.29" height="25.29" fill="#f6d7c7"/>
<rect x="1366.31" y="1624.78" width="25.29" height="25.29" fill="#dee2ee"/>
<rect x="1394.46" y="1624.78" width="25.29" height="25.29" fill="#fdbb9d"/>
<rect x="1422.6" y="1624.78" width="25.29" height="25.29" fill="#fca786"/>
<rect x="1450.74" y="1624.78" width="25.29" height="25.29" fill="#fdccb5"/>
<rect x="1478.89" y="1624.78" width="25.29" height="25.29" fill="#fdccb5"/>
<rect x="1507.03" y="1624.78" width="25.29" height="25.29" fill="#fdbb9d"/>
<rect x="522.02" y="1652.93" width="25.29" height="25.29" fill="#4e4eab"/>
<rect x="550.17" y="1652.93" width="25.29" height="25.29" fill="#4e4eab"/>
<rect x="578.31" y="1652.93" width="25.29" height="25.29" fill="#7d8bcd"/>
<rect x="606.45" y="1652.93" width="25.29" height="25.29" fill="#7d8bcd"/>
<rect x="634.6" y="1652.93" width="25.29" height="25.29" fill="#a7b7e4"/>
<rect x="662.74" y="1652.93" width="25.29" height="25.29" fill="#93a3da"/>
<rect x="690.88" y="1652.93" width="25.29" height="25.29" fill="#b6c6ea"/>
<rect x="719.03" y="1652.93" width="25.29" height="25.29" fill="#b6c6ea"/>
<rect x="747.17" y="1652.93" width="25.29" height="25.29" fill="#a7b7e4"/>
<rect x="775.31" y="1652.93" width="25.29" height="25.29" fill="#b6c6ea"/>
<rect x="803.45" y="1652.93" width="25.29" height="25.29" fill="#ebdfd8"/>
<rect x="831.6" y="1652.93" width="25.29" height="25.29" fill="#dee2ee"/>
<rect x="859.74" y="1652.93" width="25.29" height="25.29" fill="#d5dff5"/>
<rect x="887.88" y="1652.93" width="25.29" height="25.29" fill="#a7b7e4"/>
<rect x="916.03" y="1652.93" width="25.29" height="25.29" fill="#e4e2e2"/>
<rect x="944.17" y="1652.93" width="25.29" height="25.29" fill="#e4e2e2"/>
<rect x="972.31" y="1652.93" width="25.29" height="25.29" fill="#c7d5f0"/>
<rect x="1000.46" y="1652.93" width="25.29" height="25.29" fill="#c7d5f0"/>
<rect x="1028.6" y="1652.93" width="25.29" height="25.29" fill="#b6c6ea"/>
<rect x="1056.74" y="1652.93" width="25.29" height="25.29" fill="#ebdfd8"/>
<rect x="1084.88" y="1652.93" width="25.29" height="25.29" fill="#ebdfd8"/>
<rect x="1113.03" y="1652.93" width="25.29" height="25.29" fill="#b6c6ea"/>
<rect x="1141.17" y="1652.93" width="25.29" height="25.29" fill="#d5dff5"/>
<rect x="1169.31" y="1652.93" width="25.29" height="25.29" fill="#ebdfd8"/>
<rect x="1197.46" y="1652.93" width="25.29" height="25.29" fill="#d5dff5"/>
<rect x="1225.6" y="1652.93" width="25.29" height="25.29" fill="#d5dff5"/>
<rect x="1253.74" y="1652.93" width="25.29" height="25.29" fill="#dee2ee"/>
<rect x="1281.89" y="1652.93" width="25.29" height="25.29" fill="#c7d5f0"/>
<rect x="1310.03" y="1652.93" width="25.29" height="25.29" fill="#d5dff5"/>
<rect x="1338.17" y="1652.93" width="25.29" height="25.29" fill="#f6d7c7"/>
<rect x="1366.31" y="1652.93" width="25.29" height="25.29" fill="#d5dff5"/>
<rect x="1394.46" y="1652.93" width="25.29" height="25.29" fill="#fdbb9d"/>
<rect x="1422.6" y="1652.93" width="25.29" height="25.29" fill="#fca786"/>
<rect x="1450.74" y="1652.93" width="25.29" height="25.29" fill="#fdbb9d"/>
<rect x="1478.89" y="1652.93" width="25.29" height="25.29" fill="#fa9471"/>
<rect x="1507.03" y="1652.93" width="25.29" height="25.29" fill="#fdbb9d"/>
<rect x="522.02" y="1681.07" width="25.29" height="25.29" fill="#4e4eab"/>
<rect x="550.17" y="1681.07" width="25.29" height="25.29" fill="#4e4eab"/>
<rect x="578.31" y="1681.07" width="25.29" height="25.29" fill="#7d8bcd"/>
<rect x="606.45" y="1681.07" width="25.29" height="25.29" fill="#7d8bcd"/>
<rect x="634.6" y="1681.07" width="25.29" height="25.29" fill="#a7b7e4"/>
<rect x="662.74" y="1681.07" width="25.29" height="25.29" fill="#93a3da"/>
<rect x="690.88" y="1681.07" width="25.29" height="25.29" fill="#b6c6ea"/>
<rect x="719.03" y="1681.07" width="25.29" height="25.29" fill="#b6c6ea"/>
<rect x="747.17" y="1681.07" width="25.29" height="25.29" fill="#a7b7e4"/>
<rect x="775.31" y="1681.07" width="25.29" height="25.29" fill="#b6c6ea"/>
<rect x="803.45" y="1681.07" width="25.29" height="25.29" fill="#ebdfd8"/>
<rect x="831.6" y="1681.07" width="25.29" height="25.29" fill="#dee2ee"/>
<rect x="859.74" y="1681.07" width="25.29" height="25.29" fill="#d5dff5"/>
<rect x="887.88" y="1681.07" width="25.29" height="25.29" fill="#a7b7e4"/>
<rect x="916.03" y="1681.07" width="25.29" height="25.29" fill="#e4e2e2"/>
<rect x="944.17" y="1681.07" width="25.29" height="25.29" fill="#e4e2e2"/>
<rect x="972.31" y="1681.07" width="25.29" height="25.29" fill="#c7d5f0"/>
<rect x="1000.46" y="1681.07" width="25.29" height="25.29" fill="#c7d5f0"/>
<rect x="1028.6" y="1681.07" width="25.29" height="25.29" fill="#b6c6ea"/>
<rect x="1056.74" y="1681.07" width="25.29" height="25.29" fill="#ebdfd8"/>
<rect x="1084.88" y="1681.07" width="25.29" height="25.29" fill="#ebdfd8"/>
<rect x="1113.03" y="1681.07" width="25.29" height="25.29" fill="#b6c6ea"/>
<rect x="1141.17" y="1681.07" width="25.29" height="25.29" fill="#d5dff5"/>
<rect x="1169.31" y="1681.07" width="25.29" height="25.29" fill="#ebdfd8"/>
<rect x="1197.46" y="1681.07" width="25.29" height="25.29" fill="#d5dff5"/>
<rect x="1225.6" y="1681.07" width="25.29" height="25.29" fill="#d5dff5"/>
<rect x="1253.74" y="1681.07" width="25.29" height="25.29" fill="#dee2ee"/>
<rect x="1281.89" y="1681.07" width="25.29" height="25.29" fill="#c7d5f0"/>
<rect x="1310.03" y="1681.07" width="25.29" height="25.29" fill="#d5dff5"/>
<rect x="1338.17" y="1681.07" width="25.29" height="25.29" fill="#f6d7c7"/>
<rect x="1366.31" y="1681.07" width="25.29" height="25.29" fill="#d5dff5"/>
<rect x="1394.46" y="1681.07" width="25.29" height="25.29" fill="#fdbb9d"/>
<rect x="1422.6" y="1681.07" width="25.29" height="25.29" fill="#fca786"/>
<rect x="1450.74" y="1681.07" width="25.29" height="25.29" fill="#fdbb9d"/>
<rect x="1478.89" y="1681.07" width="25.29" height="25.29" fill="#fa9471"/>
<rect x="1507.03" y="1681.07" width="25.29" height="25.29" fill="#fdbb9d"/>
<rect x="522.02" y="1709.21" width="25.29" height="25.29" fill="#6570bf"/>
<rect x="550.17" y="1709.21" width="25.29" height="25.29" fill="#4e4eab"/>
<rect x="578.31" y="1709.21" width="25.29" height="25.29" fill="#93a3da"/>
<rect x="606.45" y="1709.21" width="25.29" height="25.29" fill="#93a3da"/>
<rect x="634.6" y="1709.21" width="25.29" height="25.29" fill="#d5dff5"/>
<rect x="662.74" y="1709.21" width="25.29" height="25.29" fill="#b6c6ea"/>
<rect x="690.88" y="1709.21" width="25.29" height="25.29" fill="#a7b7e4"/>
<rect x="719.03" y="1709.21" width="25.29" height="25.29" fill="#b6c6ea"/>
<rect x="747.17" y="1709.21" width="25.29" height="25.29" fill="#b6c6ea"/>
<rect x="775.31" y="1709.21" width="25.29" height="25.29" fill="#d5dff5"/>
<rect x="803.45" y="1709.21" width="25.29" height="25.29" fill="#d5dff5"/>
<rect x="831.6" y="1709.21" width="25.29" height="25.29" fill="#e4e2e2"/>
<rect x="859.74" y="1709.21" width="25.29" height="25.29" fill="#dee2ee"/>
<rect x="887.88" y="1709.21" width="25.29" height="25.29" fill="#93a3da"/>
<rect x="916.03" y="1709.21" width="25.29" height="25.29" fill="#c7d5f0"/>
<rect x="944.17" y="1709.21" width="25.29" height="25.29" fill="#c7d5f0"/>
<rect x="972.31" y="1709.21" width="25.29" height="25.29" fill="#d5dff5"/>
<rect x="1000.46" y="1709.21" width="25.29" height="25.29" fill="#c7d5f0"/>
<rect x="1028.6" y="1709.21" width="25.29" height="25.29" fill="#c7d5f0"/>
<rect x="1056.74" y="1709.21" width="25.29" height="25.29" fill="#e4e2e2"/>
<rect x="1084.88" y="1709.21" width="25.29" height="25.29" fill="#dee2ee"/>
<rect x="1113.03" y="1709.21" width="25.29" height="25.29" fill="#dee2ee"/>
<rect x="1141.17" y="1709.21" width="25.29" height="25.29" fill="#c7d5f0"/>
<rect x="1169.31" y="1709.21" width="25.29" height="25.29" fill="#e4e2e2"/>
<rect x="1197.46" y="1709.21" width="25.29" height="25.29" fill="#dee2ee"/>
<rect x="1225.6" y="1709.21" width="25.29" height="25.29" fill="#dee2ee"/>
<rect x="1253.74" y="1709.21" width="25.29" height="25.29" fill="#d5dff5"/>
<rect x="1281.89" y="1709.21" width="25.29" height="25.29" fill="#d5dff5"/>
<rect x="1310.03" y="1709.21" width="25.29" height="25.29" fill="#dee2ee"/>
<rect x="1338.17" y="1709.21" width="25.29" height="25.29" fill="#ebdfd8"/>
<rect x="1366.31" y="1709.21" width="25.29" height="25.29" fill="#ebdfd8"/>
<rect x="1394.46" y="1709.21" width="25.29" height="25.29" fill="#fdccb5"/>
<rect x="1422.6" y="1709.21" width="25.29" height="25.29" fill="#fdbb9d"/>
<rect x="1450.74" y="1709.21" width="25.29" height="25.29" fill="#fdccb5"/>
<rect x="1478.89" y="1709.21" width="25.29" height="25.29" fill="#fdbb9d"/>
<rect x="1507.03" y="1709.21" width="25.29" height="25.29" fill="#ebdfd8"/>
<rect x="522.02" y="1737.36" width="25.29" height="25.29" fill="#575cb3"/>
<rect x="550.17" y="1737.36" width="25.29" height="25.29" fill="#4e4eab"/>
<rect x="578.31" y="1737.36" width="25.29" height="25.29" fill="#93a3da"/>
<rect x="606.45" y="1737.36" width="25.29" height="25.29" fill="#93a3da"/>
<rect x="634.6" y="1737.36" width="25.29" height="25.29" fill="#c7d5f0"/>
<rect x="662.74" y="1737.36" width="25.29" height="25.29" fill="#a7b7e4"/>
<rect x="690.88" y="1737.36" width="25.29" height="25.29" fill="#b6c6ea"/>
<rect x="719.03" y="1737.36" width="25.29" height="25.29" fill="#b6c6ea"/>
<rect x="747.17" y="1737.36" width="25.29" height="25.29" fill="#b6c6ea"/>
<rect x="775.31" y="1737.36" width="25.29" height="25.29" fill="#c7d5f0"/>
<rect x="803.45" y="1737.36" width="25.29" height="25.29" fill="#dee2ee"/>
<rect x="831.6" y="1737.36" width="25.29" height="25.29" fill="#d5dff5"/>
<rect x="859.74" y="1737.36" width="25.29" height="25.29" fill="#dee2ee"/>
<rect x="887.88" y="1737.36" width="25.29" height="25.29" fill="#c7d5f0"/>
<rect x="916.03" y="1737.36" width="25.29" height="25.29" fill="#c7d5f0"/>
<rect x="944.17" y="1737.36" width="25.29" height="25.29" fill="#c7d5f0"/>
<rect x="972.31" y="1737.36" width="25.29" height="25.29" fill="#e4e2e2"/>
<rect x="1000.46" y="1737.36" width="25.29" height="25.29" fill="#d5dff5"/>
<rect x="1028.6" y="1737.36" width="25.29" height="25.29" fill="#d5dff5"/>
<rect x="1056.74" y="1737.36" width="25.29" height="25.29" fill="#f6d7c7"/>
<rect x="1084.88" y="1737.36" width="25.29" height="25.29" fill="#e4e2e2"/>
<rect x="1113.03" y="1737.36" width="25.29" height="25.29" fill="#dee2ee"/>
<rect x="1141.17" y="1737.36" width="25.29" height="25.29" fill="#d5dff5"/>
<rect x="1169.31" y="1737.36" width="25.29" height="25.29" fill="#ebdfd8"/>
<rect x="1197.46" y="1737.36" width="25.29" height="25.29" fill="#d5dff5"/>
<rect x="1225.6" y="1737.36" width="25.29" height="25.29" fill="#e4e2e2"/>
<rect x="1253.74" y="1737.36" width="25.29" height="25.29" fill="#dee2ee"/>
<rect x="1281.89" y="1737.36" width="25.29" height="25.29" fill="#d5dff5"/>
<rect x="1310.03" y="1737.36" width="25.29" height="25.29" fill="#d5dff5"/>
<rect x="1338.17" y="1737.36" width="25.29" height="25.29" fill="#f6d7c7"/>
<rect x="1366.31" y="1737.36" width="25.29" height="25.29" fill="#ebdfd8"/>
<rect x="1394.46" y="1737.36" width="25.29" height="25.29" fill="#fca786"/>
<rect x="1422.6" y="1737.36" width="25.29" height="25.29" fill="#fca786"/>
<rect x="1450.74" y="1737.36" width="25.29" height="25.29" fill="#f6d7c7"/>
<rect x="1478.89" y="1737.36" width="25.29" height="25.29" fill="#f6d7c7"/>
<rect x="1507.03" y="1737.36" width="25.29" height="25.29" fill="#f6d7c7"/>
<rect x="522.02" y="1765.5" width="25.29" height="25.29" fill="#575cb3"/>
<rect x="550.17" y="1765.5" width="25.29" height="25.29" fill="#4e4eab"/>
<rect x="578.31" y="1765.5" width="25.29" height="25.29" fill="#93a3da"/>
<rect x="606.45" y="1765.5" width="25.29" height="25.29" fill="#a7b7e4"/>
<rect x="634.6" y="1765.5" width="25.29" height="25.29" fill="#dee2ee"/>
<rect x="662.74" y="1765.5" width="25.29" height="25.29" fill="#b6c6ea"/>
<rect x="690.88" y="1765.5" width="25.29" height="25.29" fill="#b6c6ea"/>
<rect x="719.03" y="1765.5" width="25.29" height="25.29" fill="#c7d5f0"/>
<rect x="747.17" y="1765.5" width="25.29" height="25.29" fill="#b6c6ea"/>
<rect x="775.31" y="1765.5" width="25.29" height="25.29" fill="#d5dff5"/>
<rect x="803.45" y="1765.5" width="25.29" height="25.29" fill="#dee2ee"/>
<rect x="831.6" y="1765.5" width="25.29" height="25.29" fill="#d5dff5"/>
<rect x="859.74" y="1765.5" width="25.29" height="25.29" fill="#e4e2e2"/>
<rect x="887.88" y="1765.5" width="25.29" height="25.29" fill="#dee2ee"/>
<rect x="916.03" y="1765.5" width="25.29" height="25.29" fill="#c7d5f0"/>
<rect x="944.17" y="1765.5" width="25.29" height="25.29" fill="#c7d5f0"/>
<rect x="972.31" y="1765.5" width="25.29" height="25.29" fill="#dee2ee"/>
<rect x="1000.46" y="1765.5" width="25.29" height="25.29" fill="#dee2ee"/>
<rect x="1028.6" y="1765.5" width="25.29" height="25.29" fill="#d5dff5"/>
<rect x="1056.74" y="1765.5" width="25.29" height="25.29" fill="#f6d7c7"/>
<rect x="1084.88" y="1765.5" width="25.29" height="25.29" fill="#f6d7c7"/>
<rect x="1113.03" y="1765.5" width="25.29" height="25.29" fill="#e4e2e2"/>
<rect x="1141.17" y="1765.5" width="25.29" height="25.29" fill="#d5dff5"/>
<rect x="1169.31" y="1765.5" width="25.29" height="25.29" fill="#dee2ee"/>
<rect x="1197.46" y="1765.5" width="25.29" height="25.29" fill="#dee2ee"/>
<rect x="1225.6" y="1765.5" width="25.29" height="25.29" fill="#dee2ee"/>
<rect x="1253.74" y="1765.5" width="25.29" height="25.29" fill="#d5dff5"/>
<rect x="1281.89" y="1765.5" width="25.29" height="25.29" fill="#d5dff5"/>
<rect x="1310.03" y="1765.5" width="25.29" height="25.29" fill="#d5dff5"/>
<rect x="1338.17" y="1765.5" width="25.29" height="25.29" fill="#f6d7c7"/>
<rect x="1366.31" y="1765.5" width="25.29" height="25.29" fill="#ebdfd8"/>
<rect x="1394.46" y="1765.5" width="25.29" height="25.29" fill="#fca786"/>
<rect x="1422.6" y="1765.5" width="25.29" height="25.29" fill="#ef7b5a"/>
<rect x="1450.74" y="1765.5" width="25.29" height="25.29" fill="#fdbb9d"/>
<rect x="1478.89" y="1765.5" width="25.29" height="25.29" fill="#fdbb9d"/>
<rect x="1507.03" y="1765.5" width="25.29" height="25.29" fill="#fca786"/>
<rect x="522.02" y="1793.64" width="25.29" height="25.29" fill="#4e4eab"/>
<rect x="550.17" y="1793.64" width="25.29" height="25.29" fill="#4e4eab"/>
<rect x="578.31" y="1793.64" width="25.29" height="25.29" fill="#93a3da"/>
<rect x="606.45" y="1793.64" width="25.29" height="25.29" fill="#93a3da"/>
<rect x="634.6" y="1793.64" width="25.29" height="25.29" fill="#b6c6ea"/>
<rect x="662.74" y="1793.64" width="25.29" height="25.29" fill="#a7b7e4"/>
<rect x="690.88" y="1793.64" width="25.29" height="25.29" fill="#a7b7e4"/>
<rect x="719.03" y="1793.64" width="25.29" height="25.29" fill="#c7d5f0"/>
<rect x="747.17" y="1793.64" width="25.29" height="25.29" fill="#d5dff5"/>
<rect x="775.31" y="1793.64" width="25.29" height="25.29" fill="#e4e2e2"/>
<rect x="803.45" y="1793.64" width="25.29" height="25.29" fill="#dee2ee"/>
<rect x="831.6" y="1793.64" width="25.29" height="25.29" fill="#dee2ee"/>
<rect x="859.74" y="1793.64" width="25.29" height="25.29" fill="#d5dff5"/>
<rect x="887.88" y="1793.64" width="25.29" height="25.29" fill="#c7d5f0"/>
<rect x="916.03" y="1793.64" width="25.29" height="25.29" fill="#b6c6ea"/>
<rect x="944.17" y="1793.64" width="25.29" height="25.29" fill="#b6c6ea"/>
<rect x="972.31" y="1793.64" width="25.29" height="25.29" fill="#c7d5f0"/>
<rect x="1000.46" y="1793.64" width="25.29" height="25.29" fill="#c7d5f0"/>
<rect x="1028.6" y="1793.64" width="25.29" height="25.29" fill="#c7d5f0"/>
<rect x="1056.74" y="1793.64" width="25.29" height="25.29" fill="#f6d7c7"/>
<rect x="1084.88" y="1793.64" width="25.29" height="25.29" fill="#f6d7c7"/>
<rect x="1113.03" y="1793.64" width="25.29" height="25.29" fill="#d5dff5"/>
<rect x="1141.17" y="1793.64" width="25.29" height="25.29" fill="#d5dff5"/>
<rect x="1169.31" y="1793.64" width="25.29" height="25.29" fill="#ebdfd8"/>
<rect x="1197.46" y="1793.64" width="25.29" height="25.29" fill="#d5dff5"/>
<rect x="1225.6" y="1793.64" width="25.29" height="25.29" fill="#ebdfd8"/>
<rect x="1253.74" y="1793.64" width="25.29" height="25.29" fill="#f6d7c7"/>
<rect x="1281.89" y="1793.64" width="25.29" height="25.29" fill="#e4e2e2"/>
<rect x="1310.03" y="1793.64" width="25.29" height="25.29" fill="#f6d7c7"/>
<rect x="1338.17" y="1793.64" width="25.29" height="25.29" fill="#fdccb5"/>
<rect x="1366.31" y="1793.64" width="25.29" height="25.29" fill="#dee2ee"/>
<rect x="1394.46" y="1793.64" width="25.29" height="25.29" fill="#fdccb5"/>
<rect x="1422.6" y="1793.64" width="25.29" height="25.29" fill="#fa9471"/>
<rect x="1450.74" y="1793.64" width="25.29" height="25.29" fill="#fdccb5"/>
<rect x="1478.89" y="1793.64" width="25.29" height="25.29" fill="#fdbb9d"/>
<rect x="1507.03" y="1793.64" width="25.29" height="25.29" fill="#fdbb9d"/>
<rect x="522.02" y="1821.79" width="25.29" height="25.29" fill="#4e4eab"/>
<rect x="550.17" y="1821.79" width="25.29" height="25.29" fill="#4e4eab"/>
<rect x="578.31" y="1821.79" width="25.29" height="25.29" fill="#b6c6ea"/>
<rect x="606.45" y="1821.79" width="25.29" height="25.29" fill="#a7b7e4"/>
<rect x="634.6" y="1821.79" width="25.29" height="25.29" fill="#dee2ee"/>
<rect x="662.74" y="1821.79" width="25.29" height="25.29" fill="#c7d5f0"/>
<rect x="690.88" y="1821.79" width="25.29" height="25.29" fill="#b6c6ea"/>
<rect x="719.03" y="1821.79" width="25.29" height="25.29" fill="#c7d5f0"/>
<rect x="747.17" y="1821.79" width="25.29" height="25.29" fill="#e4e2e2"/>
<rect x="775.31" y="1821.79" width="25.29" height="25.29" fill="#f6d7c7"/>
<rect x="803.45" y="1821.79" width="25.29" height="25.29" fill="#dee2ee"/>
<rect x="831.6" y="1821.79" width="25.29" height="25.29" fill="#dee2ee"/>
<rect x="859.74" y="1821.79" width="25.29" height="25.29" fill="#dee2ee"/>
<rect x="887.88" y="1821.79" width="25.29" height="25.29" fill="#b6c6ea"/>
<rect x="916.03" y="1821.79" width="25.29" height="25.29" fill="#b6c6ea"/>
<rect x="944.17" y="1821.79" width="25.29" height="25.29" fill="#b6c6ea"/>
<rect x="972.31" y="1821.79" width="25.29" height="25.29" fill="#c7d5f0"/>
<rect x="1000.46" y="1821.79" width="25.29" height="25.29" fill="#d5dff5"/>
<rect x="1028.6" y="1821.79" width="25.29" height="25.29" fill="#c7d5f0"/>
<rect x="1056.74" y="1821.79" width="25.29" height="25.29" fill="#f6d7c7"/>
<rect x="1084.88" y="1821.79" width="25.29" height="25.29" fill="#f6d7c7"/>
<rect x="1113.03" y="1821.79" width="25.29" height="25.29" fill="#dee2ee"/>
<rect x="1141.17" y="1821.79" width="25.29" height="25.29" fill="#d5dff5"/>
<rect x="1169.31" y="1821.79" width="25.29" height="25.29" fill="#e4e2e2"/>
<rect x="1197.46" y="1821.79" width="25.29" height="25.29" fill="#dee2ee"/>
<rect x="1225.6" y="1821.79" width="25.29" height="25.29" fill="#dee2ee"/>
<rect x="1253.74" y="1821.79" width="25.29" height="25.29" fill="#e4e2e2"/>
<rect x="1281.89" y="1821.79" width="25.29" height="25.29" fill="#d5dff5"/>
<rect x="1310.03" y="1821.79" width="25.29" height="25.29" fill="#e4e2e2"/>
<rect x="1338.17" y="1821.79" width="25.29" height="25.29" fill="#f6d7c7"/>
<rect x="1366.31" y="1821.79" width="25.29" height="25.29" fill="#f6d7c7"/>
<rect x="1394.46" y="1821.79" width="25.29" height="25.29" fill="#fa9471"/>
<rect x="1422.6" y="1821.79" width="25.29" height="25.29" fill="#fa9471"/>
<rect x="1450.74" y="1821.79" width="25.29" height="25.29" fill="#f6d7c7"/>
<rect x="1478.89" y="1821.79" width="25.29" height="25.29" fill="#fa9471"/>
<rect x="1507.03" y="1821.79" width="25.29" height="25.29" fill="#fca786"/>
<rect x="522.02" y="1849.93" width="25.29" height="25.29" fill="#575cb3"/>
<rect x="550.17" y="1849.93" width="25.29" height="25.29" fill="#4e4eab"/>
<rect x="578.31" y="1849.93" width="25.29" height="25.29" fill="#a7b7e4"/>
<rect x="606.45" y="1849.93" width="25.29" height="25.29" fill="#a7b7e4"/>
<rect x="634.6" y="1849.93" width="25.29" height="25.29" fill="#ebdfd8"/>
<rect x="662.74" y="1849.93" width="25.29" height="25.29" fill="#d5dff5"/>
<rect x="690.88" y="1849.93" width="25.29" height="25.29" fill="#c7d5f0"/>
<rect x="719.03" y="1849.93" width="25.29" height="25.29" fill="#d5dff5"/>
<rect x="747.17" y="1849.93" width="25.29" height="25.29" fill="#d5dff5"/>
<rect x="775.31" y="1849.93" width="25.29" height="25.29" fill="#e4e2e2"/>
<rect x="803.45" y="1849.93" width="25.29" height="25.29" fill="#dee2ee"/>
<rect x="831.6" y="1849.93" width="25.29" height="25.29" fill="#d5dff5"/>
<rect x="859.74" y="1849.93" width="25.29" height="25.29" fill="#dee2ee"/>
<rect x="887.88" y="1849.93" width="25.29" height="25.29" fill="#b6c6ea"/>
<rect x="916.03" y="1849.93" width="25.29" height="25.29" fill="#d5dff5"/>
<rect x="944.17" y="1849.93" width="25.29" height="25.29" fill="#d5dff5"/>
<rect x="972.31" y="1849.93" width="25.29" height="25.29" fill="#d5dff5"/>
<rect x="1000.46" y="1849.93" width="25.29" height="25.29" fill="#c7d5f0"/>
<rect x="1028.6" y="1849.93" width="25.29" height="25.29" fill="#c7d5f0"/>
<rect x="1056.74" y="1849.93" width="25.29" height="25.29" fill="#fdccb5"/>
<rect x="1084.88" y="1849.93" width="25.29" height="25.29" fill="#fdccb5"/>
<rect x="1113.03" y="1849.93" width="25.29" height="25.29" fill="#dee2ee"/>
<rect x="1141.17" y="1849.93" width="25.29" height="25.29" fill="#e4e2e2"/>
<rect x="1169.31" y="1849.93" width="25.29" height="25.29" fill="#f6d7c7"/>
<rect x="1197.46" y="1849.93" width="25.29" height="25.29" fill="#fdccb5"/>
<rect x="1225.6" y="1849.93" width="25.29" height="25.29" fill="#dee2ee"/>
<rect x="1253.74" y="1849.93" width="25.29" height="25.29" fill="#f6d7c7"/>
<rect x="1281.89" y="1849.93" width="25.29" height="25.29" fill="#e4e2e2"/>
<rect x="1310.03" y="1849.93" width="25.29" height="25.29" fill="#e4e2e2"/>
<rect x="1338.17" y="1849.93" width="25.29" height="25.29" fill="#f6d7c7"/>
<rect x="1366.31" y="1849.93" width="25.29" height="25.29" fill="#ebdfd8"/>
<rect x="1394.46" y="1849.93" width="25.29" height="25.29" fill="#fdbb9d"/>
<rect x="1422.6" y="1849.93" width="25.29" height="25.29" fill="#e06148"/>
<rect x="1450.74" y="1849.93" width="25.29" height="25.29" fill="#fdccb5"/>
<rect x="1478.89" y="1849.93" width="25.29" height="25.29" fill="#fca786"/>
<rect x="1507.03" y="1849.93" width="25.29" height="25.29" fill="#ef7b5a"/>
<rect x="522.02" y="1878.07" width="25.29" height="25.29" fill="#6570bf"/>
<rect x="550.17" y="1878.07" width="25.29" height="25.29" fill="#4e4eab"/>
<rect x="578.31" y="1878.07" width="25.29" height="25.29" fill="#a7b7e4"/>
<rect x="606.45" y="1878.07" width="25.29" height="25.29" fill="#a7b7e4"/>
<rect x="634.6" y="1878.07" width="25.29" height="25.29" fill="#ebdfd8"/>
<rect x="662.74" y="1878.07" width="25.29" height="25.29" fill="#e4e2e2"/>
<rect x="690.88" y="1878.07" width="25.29" height="25.29" fill="#b6c6ea"/>
<rect x="719.03" y="1878.07" width="25.29" height="25.29" fill="#b6c6ea"/>
<rect x="747.17" y="1878.07" width="25.29" height="25.29" fill="#c7d5f0"/>
<rect x="775.31" y="1878.07" width="25.29" height="25.29" fill="#d5dff5"/>
<rect x="803.45" y="1878.07" width="25.29" height="25.29" fill="#dee2ee"/>
<rect x="831.6" y="1878.07" width="25.29" height="25.29" fill="#c7d5f0"/>
<rect x="859.74" y="1878.07" width="25.29" height="25.29" fill="#d5dff5"/>
<rect x="887.88" y="1878.07" width="25.29" height="25.29" fill="#a7b7e4"/>
<rect x="916.03" y="1878.07" width="25.29" height="25.29" fill="#c7d5f0"/>
<rect x="944.17" y="1878.07" width="25.29" height="25.29" fill="#c7d5f0"/>
<rect x="972.31" y="1878.07" width="25.29" height="25.29" fill="#d5dff5"/>
<rect x="1000.46" y="1878.07" width="25.29" height="25.29" fill="#c7d5f0"/>
<rect x="1028.6" y="1878.07" width="25.29" height="25.29" fill="#c7d5f0"/>
<rect x="1056.74" y="1878.07" width="25.29" height="25.29" fill="#f6d7c7"/>
<rect x="1084.88" y="1878.07" width="25.29" height="25.29" fill="#f6d7c7"/>
<rect x="1113.03" y="1878.07" width="25.29" height="25.29" fill="#d5dff5"/>
<rect x="1141.17" y="1878.07" width="25.29" height="25.29" fill="#ebdfd8"/>
<rect x="1169.31" y="1878.07" width="25.29" height="25.29" fill="#f6d7c7"/>
<rect x="1197.46" y="1878.07" width="25.29" height="25.29" fill="#f6d7c7"/>
<rect x="1225.6" y="1878.07" width="25.29" height="25.29" fill="#ebdfd8"/>
<rect x="1253.74" y="1878.07" width="25.29" height="25.29" fill="#ebdfd8"/>
<rect x="1281.89" y="1878.07" width="25.29" height="25.29" fill="#dee2ee"/>
<rect x="1310.03" y="1878.07" width="25.29" height="25.29" fill="#dee2ee"/>
<rect x="1338.17" y="1878.07" width="25.29" height="25.29" fill="#fdccb5"/>
<rect x="1366.31" y="1878.07" width="25.29" height="25.29" fill="#e4e2e2"/>
<rect x="1394.46" y="1878.07" width="25.29" height="25.29" fill="#fca786"/>
<rect x="1422.6" y="1878.07" width="25.29" height="25.29" fill="#d04b3a"/>
<rect x="1450.74" y="1878.07" width="25.29" height="25.29" fill="#ebdfd8"/>
<rect x="1478.89" y="1878.07" width="25.29" height="25.29" fill="#f6d7c7"/>
<rect x="1507.03" y="1878.07" width="25.29" height="25.29" fill="#fdbb9d"/>
<rect x="522.02" y="1906.21" width="25.29" height="25.29" fill="#4e4eab"/>
<rect x="550.17" y="1906.21" width="25.29" height="25.29" fill="#4e4eab"/>
<rect x="578.31" y="1906.21" width="25.29" height="25.29" fill="#93a3da"/>
<rect x="606.45" y="1906.21" width="25.29" height="25.29" fill="#a7b7e4"/>
<rect x="634.6" y="1906.21" width="25.29" height="25.29" fill="#c7d5f0"/>
<rect x="662.74" y="1906.21" width="25.29" height="25.29" fill="#a7b7e4"/>
<rect x="690.88" y="1906.21" width="25.29" height="25.29" fill="#b6c6ea"/>
<rect x="719.03" y="1906.21" width="25.29" height="25.29" fill="#c7d5f0"/>
<rect x="747.17" y="1906.21" width="25.29" height="25.29" fill="#d5dff5"/>
<rect x="775.31" y="1906.21" width="25.29" height="25.29" fill="#93a3da"/>
<rect x="803.45" y="1906.21" width="25.29" height="25.29" fill="#e4e2e2"/>
<rect x="831.6" y="1906.21" width="25.29" height="25.29" fill="#e4e2e2"/>
<rect x="859.74" y="1906.21" width="25.29" height="25.29" fill="#dee2ee"/>
<rect x="887.88" y="1906.21" width="25.29" height="25.29" fill="#d5dff5"/>
<rect x="916.03" y="1906.21" width="25.29" height="25.29" fill="#d5dff5"/>
<rect x="944.17" y="1906.21" width="25.29" height="25.29" fill="#d5dff5"/>
<rect x="972.31" y="1906.21" width="25.29" height="25.29" fill="#d5dff5"/>
<rect x="1000.46" y="1906.21" width="25.29" height="25.29" fill="#d5dff5"/>
<rect x="1028.6" y="1906.21" width="25.29" height="25.29" fill="#c7d5f0"/>
<rect x="1056.74" y="1906.21" width="25.29" height="25.29" fill="#fdccb5"/>
<rect x="1084.88" y="1906.21" width="25.29" height="25.29" fill="#f6d7c7"/>
<rect x="1113.03" y="1906.21" width="25.29" height="25.29" fill="#dee2ee"/>
<rect x="1141.17" y="1906.21" width="25.29" height="25.29" fill="#e4e2e2"/>
<rect x="1169.31" y="1906.21" width="25.29" height="25.29" fill="#ebdfd8"/>
<rect x="1197.46" y="1906.21" width="25.29" height="25.29" fill="#e4e2e2"/>
<rect x="1225.6" y="1906.21" width="25.29" height="25.29" fill="#ebdfd8"/>
<rect x="1253.74" y="1906.21" width="25.29" height="25.29" fill="#fdccb5"/>
<rect x="1281.89" y="1906.21" width="25.29" height="25.29" fill="#f6d7c7"/>
<rect x="1310.03" y="1906.21" width="25.29" height="25.29" fill="#e4e2e2"/>
<rect x="1338.17" y="1906.21" width="25.29" height="25.29" fill="#fdccb5"/>
<rect x="1366.31" y="1906.21" width="25.29" height="25.29" fill="#dee2ee"/>
<rect x="1394.46" y="1906.21" width="25.29" height="25.29" fill="#fdbb9d"/>
<rect x="1422.6" y="1906.21" width="25.29" height="25.29" fill="#fa9471"/>
<rect x="1450.74" y="1906.21" width="25.29" height="25.29" fill="#fdbb9d"/>
<rect x="1478.89" y="1906.21" width="25.29" height="25.29" fill="#fa9471"/>
<rect x="1507.03" y="1906.21" width="25.29" height="25.29" fill="#fca786"/>
<rect x="522.02" y="1934.36" width="25.29" height="25.29" fill="#7d8bcd"/>
<rect x="550.17" y="1934.36" width="25.29" height="25.29" fill="#4e4eab"/>
<rect x="578.31" y="1934.36" width="25.29" height="25.29" fill="#a7b7e4"/>
<rect x="606.45" y="1934.36" width="25.29" height="25.29" fill="#93a3da"/>
<rect x="634.6" y="1934.36" width="25.29" height="25.29" fill="#c7d5f0"/>
<rect x="662.74" y="1934.36" width="25.29" height="25.29" fill="#c7d5f0"/>
<rect x="690.88" y="1934.36" width="25.29" height="25.29" fill="#c7d5f0"/>
<rect x="719.03" y="1934.36" width="25.29" height="25.29" fill="#c7d5f0"/>
<rect x="747.17" y="1934.36" width="25.29" height="25.29" fill="#d5dff5"/>
<rect x="775.31" y="1934.36" width="25.29" height="25.29" fill="#dee2ee"/>
<rect x="803.45" y="1934.36" width="25.29" height="25.29" fill="#ebdfd8"/>
<rect x="831.6" y="1934.36" width="25.29" height="25.29" fill="#ebdfd8"/>
<rect x="859.74" y="1934.36" width="25.29" height="25.29" fill="#dee2ee"/>
<rect x="887.88" y="1934.36" width="25.29" height="25.29" fill="#d5dff5"/>
<rect x="916.03" y="1934.36" width="25.29" height="25.29" fill="#dee2ee"/>
<rect x="944.17" y="1934.36" width="25.29" height="25.29" fill="#dee2ee"/>
<rect x="972.31" y="1934.36" width="25.29" height="25.29" fill="#d5dff5"/>
<rect x="1000.46" y="1934.36" width="25.29" height="25.29" fill="#dee2ee"/>
<rect x="1028.6" y="1934.36" width="25.29" height="25.29" fill="#d5dff5"/>
<rect x="1056.74" y="1934.36" width="25.29" height="25.29" fill="#fdccb5"/>
<rect x="1084.88" y="1934.36" width="25.29" height="25.29" fill="#fdccb5"/>
<rect x="1113.03" y="1934.36" width="25.29" height="25.29" fill="#ebdfd8"/>
<rect x="1141.17" y="1934.36" width="25.29" height="25.29" fill="#dee2ee"/>
<rect x="1169.31" y="1934.36" width="25.29" height="25.29" fill="#f6d7c7"/>
<rect x="1197.46" y="1934.36" width="25.29" height="25.29" fill="#f6d7c7"/>
<rect x="1225.6" y="1934.36" width="25.29" height="25.29" fill="#e4e2e2"/>
<rect x="1253.74" y="1934.36" width="25.29" height="25.29" fill="#ebdfd8"/>
<rect x="1281.89" y="1934.36" width="25.29" height="25.29" fill="#dee2ee"/>
<rect x="1310.03" y="1934.36" width="25.29" height="25.29" fill="#ebdfd8"/>
<rect x="1338.17" y="1934.36" width="25.29" height="25.29" fill="#fdbb9d"/>
<rect x="1366.31" y="1934.36" width="25.29" height="25.29" fill="#e4e2e2"/>
<rect x="1394.46" y="1934.36" width="25.29" height="25.29" fill="#fdbb9d"/>
<rect x="1422.6" y="1934.36" width="25.29" height="25.29" fill="#fca786"/>
<rect x="1450.74" y="1934.36" width="25.29" height="25.29" fill="#fdbb9d"/>
<rect x="1478.89" y="1934.36" width="25.29" height="25.29" fill="#fdbb9d"/>
<rect x="1507.03" y="1934.36" width="25.29" height="25.29" fill="#fca786"/>
<rect x="522.02" y="1962.5" width="25.29" height="25.29" fill="#7d8bcd"/>
<rect x="550.17" y="1962.5" width="25.29" height="25.29" fill="#4e4eab"/>
<rect x="578.31" y="1962.5" width="25.29" height="25.29" fill="#a7b7e4"/>
<rect x="606.45" y="1962.5" width="25.29" height="25.29" fill="#a7b7e4"/>
<rect x="634.6" y="1962.5" width="25.29" height="25.29" fill="#d5dff5"/>
<rect x="662.74" y="1962.5" width="25.29" height="25.29" fill="#c7d5f0"/>
<rect x="690.88" y="1962.5" width="25.29" height="25.29" fill="#c7d5f0"/>
<rect x="719.03" y="1962.5" width="25.29" height="25.29" fill="#dee2ee"/>
<rect x="747.17" y="1962.5" width="25.29" height="25.29" fill="#d5dff5"/>
<rect x="775.31" y="1962.5" width="25.29" height="25.29" fill="#dee2ee"/>
<rect x="803.45" y="1962.5" width="25.29" height="25.29" fill="#f6d7c7"/>
<rect x="831.6" y="1962.5" width="25.29" height="25.29" fill="#ebdfd8"/>
<rect x="859.74" y="1962.5" width="25.29" height="25.29" fill="#ebdfd8"/>
<rect x="887.88" y="1962.5" width="25.29" height="25.29" fill="#d5dff5"/>
<rect x="916.03" y="1962.5" width="25.29" height="25.29" fill="#dee2ee"/>
<rect x="944.17" y="1962.5" width="25.29" height="25.29" fill="#dee2ee"/>
<rect x="972.31" y="1962.5" width="25.29" height="25.29" fill="#dee2ee"/>
<rect x="1000.46" y="1962.5" width="25.29" height="25.29" fill="#dee2ee"/>
<rect x="1028.6" y="1962.5" width="25.29" height="25.29" fill="#d5dff5"/>
<rect x="1056.74" y="1962.5" width="25.29" height="25.29" fill="#fdccb5"/>
<rect x="1084.88" y="1962.5" width="25.29" height="25.29" fill="#f6d7c7"/>
<rect x="1113.03" y="1962.5" width="25.29" height="25.29" fill="#ebdfd8"/>
<rect x="1141.17" y="1962.5" width="25.29" height="25.29" fill="#ebdfd8"/>
<rect x="1169.31" y="1962.5" width="25.29" height="25.29" fill="#fdccb5"/>
<rect x="1197.46" y="1962.5" width="25.29" height="25.29" fill="#f6d7c7"/>
<rect x="1225.6" y="1962.5" width="25.29" height="25.29" fill="#ebdfd8"/>
<rect x="1253.74" y="1962.5" width="25.29" height="25.29" fill="#e4e2e2"/>
<rect x="1281.89" y="1962.5" width="25.29" height="25.29" fill="#f6d7c7"/>
<rect x="1310.03" y="1962.5" width="25.29" height="25.29" fill="#fdccb5"/>
<rect x="1338.17" y="1962.5" width="25.29" height="25.29" fill="#fdbb9d"/>
<rect x="1366.31" y="1962.5" width="25.29" height="25.29" fill="#ebdfd8"/>
<rect x="1394.46" y="1962.5" width="25.29" height="25.29" fill="#fca786"/>
<rect x="1422.6" y="1962.5" width="25.29" height="25.29" fill="#fa9471"/>
<rect x="1450.74" y="1962.5" width="25.29" height="25.29" fill="#fca786"/>
<rect x="1478.89" y="1962.5" width="25.29" height="25.29" fill="#fca786"/>
<rect x="1507.03" y="1962.5" width="25.29" height="25.29" fill="#fca786"/>
<rect x="522.02" y="1990.64" width="25.29" height="25.29" fill="#6570bf"/>
<rect x="550.17" y="1990.64" width="25.29" height="25.29" fill="#4e4eab"/>
<rect x="578.31" y="1990.64" width="25.29" height="25.29" fill="#c7d5f0"/>
<rect x="606.45" y="1990.64" width="25.29" height="25.29" fill="#b6c6ea"/>
<rect x="634.6" y="1990.64" width="25.29" height="25.29" fill="#d5dff5"/>
<rect x="662.74" y="1990.64" width="25.29" height="25.29" fill="#d5dff5"/>
<rect x="690.88" y="1990.64" width="25.29" height="25.29" fill="#c7d5f0"/>
<rect x="719.03" y="1990.64" width="25.29" height="25.29" fill="#d5dff5"/>
<rect x="747.17" y="1990.64" width="25.29" height="25.29" fill="#d5dff5"/>
<rect x="775.31" y="1990.64" width="25.29" height="25.29" fill="#d5dff5"/>
<rect x="803.45" y="1990.64" width="25.29" height="25.29" fill="#e4e2e2"/>
<rect x="831.6" y="1990.64" width="25.29" height="25.29" fill="#e4e2e2"/>
<rect x="859.74" y="1990.64" width="25.29" height="25.29" fill="#d5dff5"/>
<rect x="887.88" y="1990.64" width="25.29" height="25.29" fill="#b6c6ea"/>
<rect x="916.03" y="1990.64" width="25.29" height="25.29" fill="#d5dff5"/>
<rect x="944.17" y="1990.64" width="25.29" height="25.29" fill="#d5dff5"/>
<rect x="972.31" y="1990.64" width="25.29" height="25.29" fill="#d5dff5"/>
<rect x="1000.46" y="1990.64" width="25.29" height="25.29" fill="#e4e2e2"/>
<rect x="1028.6" y="1990.64" width="25.29" height="25.29" fill="#ebdfd8"/>
<rect x="1056.74" y="1990.64" width="25.29" height="25.29" fill="#f6d7c7"/>
<rect x="1084.88" y="1990.64" width="25.29" height="25.29" fill="#e4e2e2"/>
<rect x="1113.03" y="1990.64" width="25.29" height="25.29" fill="#e4e2e2"/>
<rect x="1141.17" y="1990.64" width="25.29" height="25.29" fill="#e4e2e2"/>
<rect x="1169.31" y="1990.64" width="25.29" height="25.29" fill="#f6d7c7"/>
<rect x="1197.46" y="1990.64" width="25.29" height="25.29" fill="#ebdfd8"/>
<rect x="1225.6" y="1990.64" width="25.29" height="25.29" fill="#dee2ee"/>
<rect x="1253.74" y="1990.64" width="25.29" height="25.29" fill="#ebdfd8"/>
<rect x="1281.89" y="1990.64" width="25.29" height="25.29" fill="#e4e2e2"/>
<rect x="1310.03" y="1990.64" width="25.29" height="25.29" fill="#f6d7c7"/>
<rect x="1338.17" y="1990.64" width="25.29" height="25.29" fill="#fdccb5"/>
<rect x="1366.31" y="1990.64" width="25.29" height="25.29" fill="#fdbb9d"/>
<rect x="1394.46" y="1990.64" width="25.29" height="25.29" fill="#fca786"/>
<rect x="1422.6" y="1990.64" width="25.29" height="25.29" fill="#ef7b5a"/>
<rect x="1450.74" y="1990.64" width="25.29" height="25.29" fill="#ebdfd8"/>
<rect x="1478.89" y="1990.64" width="25.29" height="25.29" fill="#fdccb5"/>
<rect x="1507.03" y="1990.64" width="25.29" height="25.29" fill="#f6d7c7"/>
<rect x="522.02" y="2018.79" width="25.29" height="25.29" fill="#6570bf"/>
<rect x="550.17" y="2018.79" width="25.29" height="25.29" fill="#4e4eab"/>
<rect x="578.31" y="2018.79" width="25.29" height="25.29" fill="#b6c6ea"/>
<rect x="606.45" y="2018.79" width="25.29" height="25.29" fill="#b6c6ea"/>
<rect x="634.6" y="2018.79" width="25.29" height="25.29" fill="#e4e2e2"/>
<rect x="662.74" y="2018.79" width="25.29" height="25.29" fill="#b6c6ea"/>
<rect x="690.88" y="2018.79" width="25.29" height="25.29" fill="#c7d5f0"/>
<rect x="719.03" y="2018.79" width="25.29" height="25.29" fill="#c7d5f0"/>
<rect x="747.17" y="2018.79" width="25.29" height="25.29" fill="#d5dff5"/>
<rect x="775.31" y="2018.79" width="25.29" height="25.29" fill="#dee2ee"/>
<rect x="803.45" y="2018.79" width="25.29" height="25.29" fill="#dee2ee"/>
<rect x="831.6" y="2018.79" width="25.29" height="25.29" fill="#e4e2e2"/>
<rect x="859.74" y="2018.79" width="25.29" height="25.29" fill="#d5dff5"/>
<rect x="887.88" y="2018.79" width="25.29" height="25.29" fill="#d5dff5"/>
<rect x="916.03" y="2018.79" width="25.29" height="25.29" fill="#d5dff5"/>
<rect x="944.17" y="2018.79" width="25.29" height="25.29" fill="#d5dff5"/>
<rect x="972.31" y="2018.79" width="25.29" height="25.29" fill="#d5dff5"/>
<rect x="1000.46" y="2018.79" width="25.29" height="25.29" fill="#ebdfd8"/>
<rect x="1028.6" y="2018.79" width="25.29" height="25.29" fill="#e4e2e2"/>
<rect x="1056.74" y="2018.79" width="25.29" height="25.29" fill="#ebdfd8"/>
<rect x="1084.88" y="2018.79" width="25.29" height="25.29" fill="#e4e2e2"/>
<rect x="1113.03" y="2018.79" width="25.29" height="25.29" fill="#ebdfd8"/>
<rect x="1141.17" y="2018.79" width="25.29" height="25.29" fill="#dee2ee"/>
<rect x="1169.31" y="2018.79" width="25.29" height="25.29" fill="#fdbb9d"/>
<rect x="1197.46" y="2018.79" width="25.29" height="25.29" fill="#dee2ee"/>
<rect x="1225.6" y="2018.79" width="25.29" height="25.29" fill="#f6d7c7"/>
<rect x="1253.74" y="2018.79" width="25.29" height="25.29" fill="#f6d7c7"/>
<rect x="1281.89" y="2018.79" width="25.29" height="25.29" fill="#dee2ee"/>
<rect x="1310.03" y="2018.79" width="25.29" height="25.29" fill="#e4e2e2"/>
<rect x="1338.17" y="2018.79" width="25.29" height="25.29" fill="#fdbb9d"/>
<rect x="1366.31" y="2018.79" width="25.29" height="25.29" fill="#fdbb9d"/>
<rect x="1394.46" y="2018.79" width="25.29" height="25.29" fill="#be2e28"/>
<rect x="1422.6" y="2018.79" width="25.29" height="25.29" fill="#b2221f"/>
<rect x="1450.74" y="2018.79" width="25.29" height="25.29" fill="#e4e2e2"/>
<rect x="1478.89" y="2018.79" width="25.29" height="25.29" fill="#fdbb9d"/>
<rect x="1507.03" y="2018.79" width="25.29" height="25.29" fill="#e4e2e2"/>
<rect x="522.02" y="2046.93" width="25.29" height="25.29" fill="#6570bf"/>
<rect x="550.17" y="2046.93" width="25.29" height="25.29" fill="#4e4eab"/>
<rect x="578.31" y="2046.93" width="25.29" height="25.29" fill="#c7d5f0"/>
<rect x="606.45" y="2046.93" width="25.29" height="25.29" fill="#c7d5f0"/>
<rect x="634.6" y="2046.93" width="25.29" height="25.29" fill="#d5dff5"/>
<rect x="662.74" y="2046.93" width="25.29" height="25.29" fill="#c7d5f0"/>
<rect x="690.88" y="2046.93" width="25.29" height="25.29" fill="#d5dff5"/>
<rect x="719.03" y="2046.93" width="25.29" height="25.29" fill="#d5dff5"/>
<rect x="747.17" y="2046.93" width="25.29" height="25.29" fill="#c7d5f0"/>
<rect x="775.31" y="2046.93" width="25.29" height="25.29" fill="#c7d5f0"/>
<rect x="803.45" y="2046.93" width="25.29" height="25.29" fill="#d5dff5"/>
<rect x="831.6" y="2046.93" width="25.29" height="25.29" fill="#e4e2e2"/>
<rect x="859.74" y="2046.93" width="25.29" height="25.29" fill="#d5dff5"/>
<rect x="887.88" y="2046.93" width="25.29" height="25.29" fill="#d5dff5"/>
<rect x="916.03" y="2046.93" width="25.29" height="25.29" fill="#dee2ee"/>
<rect x="944.17" y="2046.93" width="25.29" height="25.29" fill="#dee2ee"/>
<rect x="972.31" y="2046.93" width="25.29" height="25.29" fill="#d5dff5"/>
<rect x="1000.46" y="2046.93" width="25.29" height="25.29" fill="#e4e2e2"/>
<rect x="1028.6" y="2046.93" width="25.29" height="25.29" fill="#d5dff5"/>
<rect x="1056.74" y="2046.93" width="25.29" height="25.29" fill="#ebdfd8"/>
<rect x="1084.88" y="2046.93" width="25.29" height="25.29" fill="#dee2ee"/>
<rect x="1113.03" y="2046.93" width="25.29" height="25.29" fill="#ebdfd8"/>
<rect x="1141.17" y="2046.93" width="25.29" height="25.29" fill="#e4e2e2"/>
<rect x="1169.31" y="2046.93" width="25.29" height="25.29" fill="#f6d7c7"/>
<rect x="1197.46" y="2046.93" width="25.29" height="25.29" fill="#e4e2e2"/>
<rect x="1225.6" y="2046.93" width="25.29" height="25.29" fill="#fdccb5"/>
<rect x="1253.74" y="2046.93" width="25.29" height="25.29" fill="#fdccb5"/>
<rect x="1281.89" y="2046.93" width="25.29" height="25.29" fill="#f6d7c7"/>
<rect x="1310.03" y="2046.93" width="25.29" height="25.29" fill="#f6d7c7"/>
<rect x="1338.17" y="2046.93" width="25.29" height="25.29" fill="#fdbb9d"/>
<rect x="1366.31" y="2046.93" width="25.29" height="25.29" fill="#fdccb5"/>
<rect x="1394.46" y="2046.93" width="25.29" height="25.29" fill="#d04b3a"/>
<rect x="1422.6" y="2046.93" width="25.29" height="25.29" fill="#be2e28"/>
<rect x="1450.74" y="2046.93" width="25.29" height="25.29" fill="#e4e2e2"/>
<rect x="1478.89" y="2046.93" width="25.29" height="25.29" fill="#fdccb5"/>
<rect x="1507.03" y="2046.93" width="25.29" height="25.29" fill="#e4e2e2"/>
<rect x="522.02" y="2075.07" width="25.29" height="25.29" fill="#6570bf"/>
<rect x="550.17" y="2075.07" width="25.29" height="25.29" fill="#4e4eab"/>
<rect x="578.31" y="2075.07" width="25.29" height="25.29" fill="#c7d5f0"/>
<rect x="606.45" y="2075.07" width="25.29" height="25.29" fill="#c7d5f0"/>
<rect x="634.6" y="2075.07" width="25.29" height="25.29" fill="#ebdfd8"/>
<rect x="662.74" y="2075.07" width="25.29" height="25.29" fill="#b6c6ea"/>
<rect x="690.88" y="2075.07" width="25.29" height="25.29" fill="#d5dff5"/>
<rect x="719.03" y="2075.07" width="25.29" height="25.29" fill="#d5dff5"/>
<rect x="747.17" y="2075.07" width="25.29" height="25.29" fill="#c7d5f0"/>
<rect x="775.31" y="2075.07" width="25.29" height="25.29" fill="#b6c6ea"/>
<rect x="803.45" y="2075.07" width="25.29" height="25.29" fill="#ebdfd8"/>
<rect x="831.6" y="2075.07" width="25.29" height="25.29" fill="#dee2ee"/>
<rect x="859.74" y="2075.07" width="25.29" height="25.29" fill="#d5dff5"/>
<rect x="887.88" y="2075.07" width="25.29" height="25.29" fill="#e4e2e2"/>
<rect x="916.03" y="2075.07" width="25.29" height="25.29" fill="#dee2ee"/>
<rect x="944.17" y="2075.07" width="25.29" height="25.29" fill="#dee2ee"/>
<rect x="972.31" y="2075.07" width="25.29" height="25.29" fill="#d5dff5"/>
<rect x="1000.46" y="2075.07" width="25.29" height="25.29" fill="#e4e2e2"/>
<rect x="1028.6" y="2075.07" width="25.29" height="25.29" fill="#e4e2e2"/>
<rect x="1056.74" y="2075.07" width="25.29" height="25.29" fill="#e4e2e2"/>
<rect x="1084.88" y="2075.07" width="25.29" height="25.29" fill="#dee2ee"/>
<rect x="1113.03" y="2075.07" width="25.29" height="25.29" fill="#dee2ee"/>
<rect x="1141.17" y="2075.07" width="25.29" height="25.29" fill="#dee2ee"/>
<rect x="1169.31" y="2075.07" width="25.29" height="25.29" fill="#fdccb5"/>
<rect x="1197.46" y="2075.07" width="25.29" height="25.29" fill="#dee2ee"/>
<rect x="1225.6" y="2075.07" width="25.29" height="25.29" fill="#fdccb5"/>
<rect x="1253.74" y="2075.07" width="25.29" height="25.29" fill="#fdbb9d"/>
<rect x="1281.89" y="2075.07" width="25.29" height="25.29" fill="#f6d7c7"/>
<rect x="1310.03" y="2075.07" width="25.29" height="25.29" fill="#fdccb5"/>
<rect x="1338.17" y="2075.07" width="25.29" height="25.29" fill="#fdbb9d"/>
<rect x="1366.31" y="2075.07" width="25.29" height="25.29" fill="#fdbb9d"/>
<rect x="1394.46" y="2075.07" width="25.29" height="25.29" fill="#be2e28"/>
<rect x="1422.6" y="2075.07" width="25.29" height="25.29" fill="#b2221f"/>
<rect x="1450.74" y="2075.07" width="25.29" height="25.29" fill="#dee2ee"/>
<rect x="1478.89" y="2075.07" width="25.29" height="25.29" fill="#f6d7c7"/>
<rect x="1507.03" y="2075.07" width="25.29" height="25.29" fill="#e4e2e2"/>
<rect x="522.02" y="2103.22" width="25.29" height="25.29" fill="#7d8bcd"/>
<rect x="550.17" y="2103.22" width="25.29" height="25.29" fill="#4e4eab"/>
<rect x="578.31" y="2103.22" width="25.29" height="25.29" fill="#b6c6ea"/>
<rect x="606.45" y="2103.22" width="25.29" height="25.29" fill="#a7b7e4"/>
<rect x="634.6" y="2103.22" width="25.29" height="25.29" fill="#ebdfd8"/>
<rect x="662.74" y="2103.22" width="25.29" height="25.29" fill="#c7d5f0"/>
<rect x="690.88" y="2103.22" width="25.29" height="25.29" fill="#d5dff5"/>
<rect x="719.03" y="2103.22" width="25.29" height="25.29" fill="#ebdfd8"/>
<rect x="747.17" y="2103.22" width="25.29" height="25.29" fill="#ebdfd8"/>
<rect x="775.31" y="2103.22" width="25.29" height="25.29" fill="#fdccb5"/>
<rect x="803.45" y="2103.22" width="25.29" height="25.29" fill="#fdbb9d"/>
<rect x="831.6" y="2103.22" width="25.29" height="25.29" fill="#f6d7c7"/>
<rect x="859.74" y="2103.22" width="25.29" height="25.29" fill="#f6d7c7"/>
<rect x="887.88" y="2103.22" width="25.29" height="25.29" fill="#f6d7c7"/>
<rect x="916.03" y="2103.22" width="25.29" height="25.29" fill="#ebdfd8"/>
<rect x="944.17" y="2103.22" width="25.29" height="25.29" fill="#ebdfd8"/>
<rect x="972.31" y="2103.22" width="25.29" height="25.29" fill="#ebdfd8"/>
<rect x="1000.46" y="2103.22" width="25.29" height="25.29" fill="#f6d7c7"/>
<rect x="1028.6" y="2103.22" width="25.29" height="25.29" fill="#ebdfd8"/>
<rect x="1056.74" y="2103.22" width="25.29" height="25.29" fill="#fdccb5"/>
<rect x="1084.88" y="2103.22" width="25.29" height="25.29" fill="#fdccb5"/>
<rect x="1113.03" y="2103.22" width="25.29" height="25.29" fill="#fdbb9d"/>
<rect x="1141.17" y="2103.22" width="25.29" height="25.29" fill="#ebdfd8"/>
<rect x="1169.31" y="2103.22" width="25.29" height="25.29" fill="#fdccb5"/>
<rect x="1197.46" y="2103.22" width="25.29" height="25.29" fill="#ebdfd8"/>
<rect x="1225.6" y="2103.22" width="25.29" height="25.29" fill="#fdccb5"/>
<rect x="1253.74" y="2103.22" width="25.29" height="25.29" fill="#fdccb5"/>
<rect x="1281.89" y="2103.22" width="25.29" height="25.29" fill="#fdbb9d"/>
<rect x="1310.03" y="2103.22" width="25.29" height="25.29" fill="#fdccb5"/>
<rect x="1338.17" y="2103.22" width="25.29" height="25.29" fill="#e4e2e2"/>
<rect x="1366.31" y="2103.22" width="25.29" height="25.29" fill="#fdbb9d"/>
<rect x="1394.46" y="2103.22" width="25.29" height="25.29" fill="#ef7b5a"/>
<rect x="1422.6" y="2103.22" width="25.29" height="25.29" fill="#be2e28"/>
<rect x="1450.74" y="2103.22" width="25.29" height="25.29" fill="#fdccb5"/>
<rect x="1478.89" y="2103.22" width="25.29" height="25.29" fill="#fa9471"/>
<rect x="1507.03" y="2103.22" width="25.29" height="25.29" fill="#fca786"/>
<rect x="522.02" y="2131.36" width="25.29" height="25.29" fill="#7d8bcd"/>
<rect x="550.17" y="2131.36" width="25.29" height="25.29" fill="#4e4eab"/>
<rect x="578.31" y="2131.36" width="25.29" height="25.29" fill="#a7b7e4"/>
<rect x="606.45" y="2131.36" width="25.29" height="25.29" fill="#a7b7e4"/>
<rect x="634.6" y="2131.36" width="25.29" height="25.29" fill="#fca786"/>
<rect x="662.74" y="2131.36" width="25.29" height="25.29" fill="#f6d7c7"/>
<rect x="690.88" y="2131.36" width="25.29" height="25.29" fill="#c7d5f0"/>
<rect x="719.03" y="2131.36" width="25.29" height="25.29" fill="#dee2ee"/>
<rect x="747.17" y="2131.36" width="25.29" height="25.29" fill="#e4e2e2"/>
<rect x="775.31" y="2131.36" width="25.29" height="25.29" fill="#ebdfd8"/>
<rect x="803.45" y="2131.36" width="25.29" height="25.29" fill="#f6d7c7"/>
<rect x="831.6" y="2131.36" width="25.29" height="25.29" fill="#ebdfd8"/>
<rect x="859.74" y="2131.36" width="25.29" height="25.29" fill="#f6d7c7"/>
<rect x="887.88" y="2131.36" width="25.29" height="25.29" fill="#d5dff5"/>
<rect x="916.03" y="2131.36" width="25.29" height="25.29" fill="#d5dff5"/>
<rect x="944.17" y="2131.36" width="25.29" height="25.29" fill="#d5dff5"/>
<rect x="972.31" y="2131.36" width="25.29" height="25.29" fill="#f6d7c7"/>
<rect x="1000.46" y="2131.36" width="25.29" height="25.29" fill="#ebdfd8"/>
<rect x="1028.6" y="2131.36" width="25.29" height="25.29" fill="#ebdfd8"/>
<rect x="1056.74" y="2131.36" width="25.29" height="25.29" fill="#fdbb9d"/>
<rect x="1084.88" y="2131.36" width="25.29" height="25.29" fill="#f6d7c7"/>
<rect x="1113.03" y="2131.36" width="25.29" height="25.29" fill="#fdccb5"/>
<rect x="1141.17" y="2131.36" width="25.29" height="25.29" fill="#fdccb5"/>
<rect x="1169.31" y="2131.36" width="25.29" height="25.29" fill="#e4e2e2"/>
<rect x="1197.46" y="2131.36" width="25.29" height="25.29" fill="#fdbb9d"/>
<rect x="1225.6" y="2131.36" width="25.29" height="25.29" fill="#f6d7c7"/>
<rect x="1253.74" y="2131.36" width="25.29" height="25.29" fill="#f6d7c7"/>
<rect x="1281.89" y="2131.36" width="25.29" height="25.29" fill="#ebdfd8"/>
<rect x="1310.03" y="2131.36" width="25.29" height="25.29" fill="#ebdfd8"/>
<rect x="1338.17" y="2131.36" width="25.29" height="25.29" fill="#fdccb5"/>
<rect x="1366.31" y="2131.36" width="25.29" height="25.29" fill="#fca786"/>
<rect x="1394.46" y="2131.36" width="25.29" height="25.29" fill="#e06148"/>
<rect x="1422.6" y="2131.36" width="25.29" height="25.29" fill="#b2221f"/>
<rect x="1450.74" y="2131.36" width="25.29" height="25.29" fill="#fdbb9d"/>
<rect x="1478.89" y="2131.36" width="25.29" height="25.29" fill="#fca786"/>
<rect x="1507.03" y="2131.36" width="25.29" height="25.29" fill="#fa9471"/>
<rect x="522.02" y="2159.5" width="25.29" height="25.29" fill="#6570bf"/>
<rect x="550.17" y="2159.5" width="25.29" height="25.29" fill="#4e4eab"/>
<rect x="578.31" y="2159.5" width="25.29" height="25.29" fill="#c7d5f0"/>
<rect x="606.45" y="2159.5" width="25.29" height="25.29" fill="#b6c6ea"/>
<rect x="634.6" y="2159.5" width="25.29" height="25.29" fill="#dee2ee"/>
<rect x="662.74" y="2159.5" width="25.29" height="25.29" fill="#c7d5f0"/>
<rect x="690.88" y="2159.5" width="25.29" height="25.29" fill="#d5dff5"/>
<rect x="719.03" y="2159.5" width="25.29" height="25.29" fill="#d5dff5"/>
<rect x="747.17" y="2159.5" width="25.29" height="25.29" fill="#d5dff5"/>
<rect x="775.31" y="2159.5" width="25.29" height="25.29" fill="#dee2ee"/>
<rect x="803.45" y="2159.5" width="25.29" height="25.29" fill="#ebdfd8"/>
<rect x="831.6" y="2159.5" width="25.29" height="25.29" fill="#ebdfd8"/>
<rect x="859.74" y="2159.5" width="25.29" height="25.29" fill="#dee2ee"/>
<rect x="887.88" y="2159.5" width="25.29" height="25.29" fill="#d5dff5"/>
<rect x="916.03" y="2159.5" width="25.29" height="25.29" fill="#d5dff5"/>
<rect x="944.17" y="2159.5" width="25.29" height="25.29" fill="#d5dff5"/>
<rect x="972.31" y="2159.5" width="25.29" height="25.29" fill="#dee2ee"/>
<rect x="1000.46" y="2159.5" width="25.29" height="25.29" fill="#dee2ee"/>
<rect x="1028.6" y="2159.5" width="25.29" height="25.29" fill="#dee2ee"/>
<rect x="1056.74" y="2159.5" width="25.29" height="25.29" fill="#fdbb9d"/>
<rect x="1084.88" y="2159.5" width="25.29" height="25.29" fill="#ebdfd8"/>
<rect x="1113.03" y="2159.5" width="25.29" height="25.29" fill="#e4e2e2"/>
<rect x="1141.17" y="2159.5" width="25.29" height="25.29" fill="#e4e2e2"/>
<rect x="1169.31" y="2159.5" width="25.29" height="25.29" fill="#f6d7c7"/>
<rect x="1197.46" y="2159.5" width="25.29" height="25.29" fill="#e4e2e2"/>
<rect x="1225.6" y="2159.5" width="25.29" height="25.29" fill="#f6d7c7"/>
<rect x="1253.74" y="2159.5" width="25.29" height="25.29" fill="#ebdfd8"/>
<rect x="1281.89" y="2159.5" width="25.29" height="25.29" fill="#ebdfd8"/>
<rect x="1310.03" y="2159.5" width="25.29" height="25.29" fill="#f6d7c7"/>
<rect x="1338.17" y="2159.5" width="25.29" height="25.29" fill="#fdccb5"/>
<rect x="1366.31" y="2159.5" width="25.29" height="25.29" fill="#fdbb9d"/>
<rect x="1394.46" y="2159.5" width="25.29" height="25.29" fill="#be2e28"/>
<rect x="1422.6" y="2159.5" width="25.29" height="25.29" fill="#be2e28"/>
<rect x="1450.74" y="2159.5" width="25.29" height="25.29" fill="#ef7b5a"/>
<rect x="1478.89" y="2159.5" width="25.29" height="25.29" fill="#ef7b5a"/>
<rect x="1507.03" y="2159.5" width="25.29" height="25.29" fill="#fa9471"/>
<rect x="522.02" y="2187.64" width="25.29" height="25.29" fill="#4e4eab"/>
<rect x="550.17" y="2187.64" width="25.29" height="25.29" fill="#4e4eab"/>
<rect x="578.31" y="2187.64" width="25.29" height="25.29" fill="#b6c6ea"/>
<rect x="606.45" y="2187.64" width="25.29" height="25.29" fill="#a7b7e4"/>
<rect x="634.6" y="2187.64" width="25.29" height="25.29" fill="#d5dff5"/>
<rect x="662.74" y="2187.64" width="25.29" height="25.29" fill="#dee2ee"/>
<rect x="690.88" y="2187.64" width="25.29" height="25.29" fill="#c7d5f0"/>
<rect x="719.03" y="2187.64" width="25.29" height="25.29" fill="#c7d5f0"/>
<rect x="747.17" y="2187.64" width="25.29" height="25.29" fill="#f6d7c7"/>
<rect x="775.31" y="2187.64" width="25.29" height="25.29" fill="#e4e2e2"/>
<rect x="803.45" y="2187.64" width="25.29" height="25.29" fill="#e4e2e2"/>
<rect x="831.6" y="2187.64" width="25.29" height="25.29" fill="#dee2ee"/>
<rect x="859.74" y="2187.64" width="25.29" height="25.29" fill="#ebdfd8"/>
<rect x="887.88" y="2187.64" width="25.29" height="25.29" fill="#c7d5f0"/>
<rect x="916.03" y="2187.64" width="25.29" height="25.29" fill="#d5dff5"/>
<rect x="944.17" y="2187.64" width="25.29" height="25.29" fill="#d5dff5"/>
<rect x="972.31" y="2187.64" width="25.29" height="25.29" fill="#dee2ee"/>
<rect x="1000.46" y="2187.64" width="25.29" height="25.29" fill="#dee2ee"/>
<rect x="1028.6" y="2187.64" width="25.29" height="25.29" fill="#dee2ee"/>
<rect x="1056.74" y="2187.64" width="25.29" height="25.29" fill="#fdccb5"/>
<rect x="1084.88" y="2187.64" width="25.29" height="25.29" fill="#ebdfd8"/>
<rect x="1113.03" y="2187.64" width="25.29" height="25.29" fill="#ebdfd8"/>
<rect x="1141.17" y="2187.64" width="25.29" height="25.29" fill="#dee2ee"/>
<rect x="1169.31" y="2187.64" width="25.29" height="25.29" fill="#f6d7c7"/>
<rect x="1197.46" y="2187.64" width="25.29" height="25.29" fill="#ebdfd8"/>
<rect x="1225.6" y="2187.64" width="25.29" height="25.29" fill="#ebdfd8"/>
<rect x="1253.74" y="2187.64" width="25.29" height="25.29" fill="#f6d7c7"/>
<rect x="1281.89" y="2187.64" width="25.29" height="25.29" fill="#ebdfd8"/>
<rect x="1310.03" y="2187.64" width="25.29" height="25.29" fill="#f6d7c7"/>
<rect x="1338.17" y="2187.64" width="25.29" height="25.29" fill="#fdccb5"/>
<rect x="1366.31" y="2187.64" width="25.29" height="25.29" fill="#f6d7c7"/>
<rect x="1394.46" y="2187.64" width="25.29" height="25.29" fill="#be2e28"/>
<rect x="1422.6" y="2187.64" width="25.29" height="25.29" fill="#be2e28"/>
<rect x="1450.74" y="2187.64" width="25.29" height="25.29" fill="#fca786"/>
<rect x="1478.89" y="2187.64" width="25.29" height="25.29" fill="#e06148"/>
<rect x="1507.03" y="2187.64" width="25.29" height="25.29" fill="#fdbb9d"/>
<rect x="522.02" y="2215.79" width="25.29" height="25.29" fill="#4e4eab"/>
<rect x="550.17" y="2215.79" width="25.29" height="25.29" fill="#4e4eab"/>
<rect x="578.31" y="2215.79" width="25.29" height="25.29" fill="#e4e2e2"/>
<rect x="606.45" y="2215.79" width="25.29" height="25.29" fill="#b2221f"/>
<rect x="634.6" y="2215.79" width="25.29" height="25.29" fill="#c7d5f0"/>
<rect x="662.74" y="2215.79" width="25.29" height="25.29" fill="#a7b7e4"/>
<rect x="690.88" y="2215.79" width="25.29" height="25.29" fill="#c7d5f0"/>
<rect x="719.03" y="2215.79" width="25.29" height="25.29" fill="#c7d5f0"/>
<rect x="747.17" y="2215.79" width="25.29" height="25.29" fill="#b6c6ea"/>
<rect x="775.31" y="2215.79" width="25.29" height="25.29" fill="#c7d5f0"/>
<rect x="803.45" y="2215.79" width="25.29" height="25.29" fill="#c7d5f0"/>
<rect x="831.6" y="2215.79" width="25.29" height="25.29" fill="#c7d5f0"/>
<rect x="859.74" y="2215.79" width="25.29" height="25.29" fill="#d5dff5"/>
<rect x="887.88" y="2215.79" width="25.29" height="25.29" fill="#d5dff5"/>
<rect x="916.03" y="2215.79" width="25.29" height="25.29" fill="#b6c6ea"/>
<rect x="944.17" y="2215.79" width="25.29" height="25.29" fill="#b6c6ea"/>
<rect x="972.31" y="2215.79" width="25.29" height="25.29" fill="#c7d5f0"/>
<rect x="1000.46" y="2215.79" width="25.29" height="25.29" fill="#c7d5f0"/>
<rect x="1028.6" y="2215.79" width="25.29" height="25.29" fill="#b6c6ea"/>
<rect x="1056.74" y="2215.79" width="25.29" height="25.29" fill="#fdccb5"/>
<rect x="1084.88" y="2215.79" width="25.29" height="25.29" fill="#fdccb5"/>
<rect x="1113.03" y="2215.79" width="25.29" height="25.29" fill="#d5dff5"/>
<rect x="1141.17" y="2215.79" width="25.29" height="25.29" fill="#c7d5f0"/>
<rect x="1169.31" y="2215.79" width="25.29" height="25.29" fill="#dee2ee"/>
<rect x="1197.46" y="2215.79" width="25.29" height="25.29" fill="#d5dff5"/>
<rect x="1225.6" y="2215.79" width="25.29" height="25.29" fill="#d5dff5"/>
<rect x="1253.74" y="2215.79" width="25.29" height="25.29" fill="#c7d5f0"/>
<rect x="1281.89" y="2215.79" width="25.29" height="25.29" fill="#c7d5f0"/>
<rect x="1310.03" y="2215.79" width="25.29" height="25.29" fill="#dee2ee"/>
<rect x="1338.17" y="2215.79" width="25.29" height="25.29" fill="#e4e2e2"/>
<rect x="1366.31" y="2215.79" width="25.29" height="25.29" fill="#ebdfd8"/>
<rect x="1394.46" y="2215.79" width="25.29" height="25.29" fill="#dee2ee"/>
<rect x="1422.6" y="2215.79" width="25.29" height="25.29" fill="#f6d7c7"/>
<rect x="1450.74" y="2215.79" width="25.29" height="25.29" fill="#fdbb9d"/>
<rect x="1478.89" y="2215.79" width="25.29" height="25.29" fill="#fdbb9d"/>
<rect x="1507.03" y="2215.79" width="25.29" height="25.29" fill="#ef7b5a"/>
<rect x="522.02" y="2243.93" width="25.29" height="25.29" fill="#4e4eab"/>
<rect x="550.17" y="2243.93" width="25.29" height="25.29" fill="#4e4eab"/>
<rect x="578.31" y="2243.93" width="25.29" height="25.29" fill="#a7b7e4"/>
<rect x="606.45" y="2243.93" width="25.29" height="25.29" fill="#e4e2e2"/>
<rect x="634.6" y="2243.93" width="25.29" height="25.29" fill="#c7d5f0"/>
<rect x="662.74" y="2243.93" width="25.29" height="25.29" fill="#93a3da"/>
<rect x="690.88" y="2243.93" width="25.29" height="25.29" fill="#a7b7e4"/>
<rect x="719.03" y="2243.93" width="25.29" height="25.29" fill="#b6c6ea"/>
<rect x="747.17" y="2243.93" width="25.29" height="25.29" fill="#a7b7e4"/>
<rect x="775.31" y="2243.93" width="25.29" height="25.29" fill="#a7b7e4"/>
<rect x="803.45" y="2243.93" width="25.29" height="25.29" fill="#a7b7e4"/>
<rect x="831.6" y="2243.93" width="25.29" height="25.29" fill="#c7d5f0"/>
<rect x="859.74" y="2243.93" width="25.29" height="25.29" fill="#c7d5f0"/>
<rect x="887.88" y="2243.93" width="25.29" height="25.29" fill="#a7b7e4"/>
<rect x="916.03" y="2243.93" width="25.29" height="25.29" fill="#a7b7e4"/>
<rect x="944.17" y="2243.93" width="25.29" height="25.29" fill="#a7b7e4"/>
<rect x="972.31" y="2243.93" width="25.29" height="25.29" fill="#b6c6ea"/>
<rect x="1000.46" y="2243.93" width="25.29" height="25.29" fill="#a7b7e4"/>
<rect x="1028.6" y="2243.93" width="25.29" height="25.29" fill="#a7b7e4"/>
<rect x="1056.74" y="2243.93" width="25.29" height="25.29" fill="#e4e2e2"/>
<rect x="1084.88" y="2243.93" width="25.29" height="25.29" fill="#e4e2e2"/>
<rect x="1113.03" y="2243.93" width="25.29" height="25.29" fill="#c7d5f0"/>
<rect x="1141.17" y="2243.93" width="25.29" height="25.29" fill="#a7b7e4"/>
<rect x="1169.31" y="2243.93" width="25.29" height="25.29" fill="#d5dff5"/>
<rect x="1197.46" y="2243.93" width="25.29" height="25.29" fill="#b6c6ea"/>
<rect x="1225.6" y="2243.93" width="25.29" height="25.29" fill="#b6c6ea"/>
<rect x="1253.74" y="2243.93" width="25.29" height="25.29" fill="#c7d5f0"/>
<rect x="1281.89" y="2243.93" width="25.29" height="25.29" fill="#b6c6ea"/>
<rect x="1310.03" y="2243.93" width="25.29" height="25.29" fill="#d5dff5"/>
<rect x="1338.17" y="2243.93" width="25.29" height="25.29" fill="#d5dff5"/>
<rect x="1366.31" y="2243.93" width="25.29" height="25.29" fill="#dee2ee"/>
<rect x="1394.46" y="2243.93" width="25.29" height="25.29" fill="#d5dff5"/>
<rect x="1422.6" y="2243.93" width="25.29" height="25.29" fill="#e4e2e2"/>
<rect x="1450.74" y="2243.93" width="25.29" height="25.29" fill="#ebdfd8"/>
<rect x="1478.89" y="2243.93" width="25.29" height="25.29" fill="#f6d7c7"/>
<rect x="1507.03" y="2243.93" width="25.29" height="25.29" fill="#f6d7c7"/>
<rect x="1533.7" y="1196.35" width="14.1" height="3.5" fill="#111"/>
<text font-size="27.9" transform="translate(1552.5 1209.6) scale(0.983 1)" class="s">Distant</text>
<rect x="1533.7" y="1232.95" width="14.1" height="3.5" fill="#111"/>
<text font-size="27.9" transform="translate(1552.5 1246) scale(0.983 1)" class="s">Strand</text>
<rect x="1533.7" y="1269.82" width="14.1" height="3.5" fill="#111"/>
<text font-size="29.6" transform="translate(1551 1281.37) scale(0.935 1)" class="s">REST-NT</text>
<rect x="1533.7" y="1297.96" width="14.1" height="3.5" fill="#111"/>
<text font-size="29.6" transform="translate(1551 1309.6) scale(0.935 1)" class="s">REST-T</text>
<rect x="1533.7" y="1326.11" width="14.1" height="3.5" fill="#111"/>
<text font-size="29.6" transform="translate(1551 1337.84) scale(0.935 1)" class="s">HNF1A-NT</text>
<rect x="1533.7" y="1354.25" width="14.1" height="3.5" fill="#111"/>
<text font-size="29.6" transform="translate(1551 1366.07) scale(0.935 1)" class="s">HNF1A-T</text>
<rect x="1533.7" y="1382.39" width="14.1" height="3.5" fill="#111"/>
<text font-size="29.6" transform="translate(1551 1394.31) scale(0.935 1)" class="s">AHR-T</text>
<rect x="1533.7" y="1410.54" width="14.1" height="3.5" fill="#111"/>
<text font-size="29.6" transform="translate(1551 1422.54) scale(0.935 1)" class="s">PPARA-NT</text>
<rect x="1533.7" y="1438.68" width="14.1" height="3.5" fill="#111"/>
<text font-size="29.6" transform="translate(1551 1450.77) scale(0.935 1)" class="s">XBP1-T</text>
<rect x="1533.7" y="1466.82" width="14.1" height="3.5" fill="#111"/>
<text font-size="29.6" transform="translate(1551 1479.01) scale(0.935 1)" class="s">SP1-T</text>
<rect x="1533.7" y="1494.97" width="14.1" height="3.5" fill="#111"/>
<text font-size="29.6" transform="translate(1551 1507.24) scale(0.935 1)" class="s">NR2F2-T</text>
<rect x="1533.7" y="1523.11" width="14.1" height="3.5" fill="#111"/>
<text font-size="29.6" transform="translate(1551 1535.48) scale(0.935 1)" class="s">XBP1-NT</text>
<rect x="1533.7" y="1551.25" width="14.1" height="3.5" fill="#111"/>
<text font-size="29.6" transform="translate(1551 1563.71) scale(0.935 1)" class="s">HNF4A-NT</text>
<rect x="1533.7" y="1579.39" width="14.1" height="3.5" fill="#111"/>
<text font-size="29.6" transform="translate(1551 1591.94) scale(0.935 1)" class="s">RXRA-NT</text>
<rect x="1533.7" y="1607.54" width="14.1" height="3.5" fill="#111"/>
<text font-size="29.6" transform="translate(1551 1620.18) scale(0.935 1)" class="s">YY1-NT</text>
<rect x="1533.7" y="1635.68" width="14.1" height="3.5" fill="#111"/>
<text font-size="29.6" transform="translate(1551 1648.41) scale(0.935 1)" class="s">YY-T</text>
<rect x="1533.7" y="1663.82" width="14.1" height="3.5" fill="#111"/>
<text font-size="29.6" transform="translate(1551 1676.65) scale(0.935 1)" class="s">CREB1-NT</text>
<rect x="1533.7" y="1691.97" width="14.1" height="3.5" fill="#111"/>
<text font-size="29.6" transform="translate(1551 1704.88) scale(0.935 1)" class="s">CREB1-T</text>
<rect x="1533.7" y="1720.11" width="14.1" height="3.5" fill="#111"/>
<text font-size="29.6" transform="translate(1551 1733.11) scale(0.935 1)" class="s">ONECUT1-NT</text>
<rect x="1533.7" y="1748.25" width="14.1" height="3.5" fill="#111"/>
<text font-size="29.6" transform="translate(1551 1761.35) scale(0.935 1)" class="s">TFAP2C-NT</text>
<rect x="1533.7" y="1776.4" width="14.1" height="3.5" fill="#111"/>
<text font-size="29.6" transform="translate(1551 1789.58) scale(0.935 1)" class="s">TFAP2C-T</text>
<rect x="1533.7" y="1804.54" width="14.1" height="3.5" fill="#111"/>
<text font-size="29.6" transform="translate(1551 1817.82) scale(0.935 1)" class="s">AP1-NT</text>
<rect x="1533.7" y="1832.68" width="14.1" height="3.5" fill="#111"/>
<text font-size="29.6" transform="translate(1551 1846.05) scale(0.935 1)" class="s">GABPA-NT</text>
<rect x="1533.7" y="1860.82" width="14.1" height="3.5" fill="#111"/>
<text font-size="29.6" transform="translate(1551 1874.28) scale(0.935 1)" class="s">FOXA1-T</text>
<rect x="1533.7" y="1888.97" width="14.1" height="3.5" fill="#111"/>
<text font-size="29.6" transform="translate(1551 1902.52) scale(0.935 1)" class="s">PPARA-T</text>
<rect x="1533.7" y="1917.11" width="14.1" height="3.5" fill="#111"/>
<text font-size="29.6" transform="translate(1551 1930.75) scale(0.935 1)" class="s">AP1-T</text>
<rect x="1533.7" y="1945.25" width="14.1" height="3.5" fill="#111"/>
<text font-size="29.6" transform="translate(1551 1958.99) scale(0.935 1)" class="s">CEBPA-NT</text>
<rect x="1533.7" y="1973.4" width="14.1" height="3.5" fill="#111"/>
<text font-size="29.6" transform="translate(1551 1987.22) scale(0.935 1)" class="s">CEBPA-T</text>
<rect x="1533.7" y="2001.54" width="14.1" height="3.5" fill="#111"/>
<text font-size="29.6" transform="translate(1551 2015.45) scale(0.935 1)" class="s">SP1-NT</text>
<rect x="1533.7" y="2029.68" width="14.1" height="3.5" fill="#111"/>
<text font-size="29.6" transform="translate(1551 2043.69) scale(0.935 1)" class="s">RXRA-T</text>
<rect x="1533.7" y="2057.83" width="14.1" height="3.5" fill="#111"/>
<text font-size="29.6" transform="translate(1551 2071.92) scale(0.935 1)" class="s">HNF4A-T</text>
<rect x="1533.7" y="2085.97" width="14.1" height="3.5" fill="#111"/>
<text font-size="29.6" transform="translate(1551 2100.16) scale(0.935 1)" class="s">NR2F2-NT</text>
<rect x="1533.7" y="2114.11" width="14.1" height="3.5" fill="#111"/>
<text font-size="29.6" transform="translate(1551 2128.39) scale(0.935 1)" class="s">FOXA1-NT</text>
<rect x="1533.7" y="2142.25" width="14.1" height="3.5" fill="#111"/>
<text font-size="29.6" transform="translate(1551 2156.62) scale(0.935 1)" class="s">ONECUT1-T</text>
<rect x="1533.7" y="2170.4" width="14.1" height="3.5" fill="#111"/>
<text font-size="29.6" transform="translate(1551 2184.86) scale(0.935 1)" class="s">AHR-NT</text>
<rect x="1533.7" y="2198.54" width="14.1" height="3.5" fill="#111"/>
<text font-size="29.6" transform="translate(1551 2213.09) scale(0.935 1)" class="s">GABPA-T</text>
<rect x="1533.7" y="2226.68" width="14.1" height="3.5" fill="#111"/>
<text font-size="29.6" transform="translate(1551 2241.33) scale(0.935 1)" class="s">CTCF-NT</text>
<rect x="1533.7" y="2254.83" width="14.1" height="3.5" fill="#111"/>
<text font-size="29.6" transform="translate(1551 2269.56) scale(0.935 1)" class="s">CTCF-T</text>
<rect x="460.85" y="2271.4" width="3.5" height="13.3" fill="#111"/>
<text font-size="29.6" transform="translate(470.6 2289.5) rotate(-90) scale(0.935 1)" text-anchor="end" class="s">Closest</text>
<rect x="497.65" y="2271.4" width="3.5" height="13.3" fill="#111"/>
<text font-size="29.6" transform="translate(507.4 2289.5) rotate(-90) scale(0.935 1)" text-anchor="end" class="s">Strand</text>
<rect x="532.92" y="2271.4" width="3.5" height="13.3" fill="#111"/>
<text font-size="29.6" transform="translate(542.4 2289.5) rotate(-90) scale(0.935 1)" text-anchor="end" class="s">REST-NT</text>
<rect x="561.06" y="2271.4" width="3.5" height="13.3" fill="#111"/>
<text font-size="29.6" transform="translate(570.65 2289.5) rotate(-90) scale(0.935 1)" text-anchor="end" class="s">REST-T</text>
<rect x="589.21" y="2271.4" width="3.5" height="13.3" fill="#111"/>
<text font-size="29.6" transform="translate(598.91 2289.5) rotate(-90) scale(0.935 1)" text-anchor="end" class="s">HNF1A-NT</text>
<rect x="617.35" y="2271.4" width="3.5" height="13.3" fill="#111"/>
<text font-size="29.6" transform="translate(627.16 2289.5) rotate(-90) scale(0.935 1)" text-anchor="end" class="s">HNF1A-T</text>
<rect x="645.49" y="2271.4" width="3.5" height="13.3" fill="#111"/>
<text font-size="29.6" transform="translate(655.42 2289.5) rotate(-90) scale(0.935 1)" text-anchor="end" class="s">AHR-T</text>
<rect x="673.64" y="2271.4" width="3.5" height="13.3" fill="#111"/>
<text font-size="29.6" transform="translate(683.67 2289.5) rotate(-90) scale(0.935 1)" text-anchor="end" class="s">PPARA-NT</text>
<rect x="701.78" y="2271.4" width="3.5" height="13.3" fill="#111"/>
<text font-size="29.6" transform="translate(711.92 2289.5) rotate(-90) scale(0.935 1)" text-anchor="end" class="s">XBP1-T</text>
<rect x="729.92" y="2271.4" width="3.5" height="13.3" fill="#111"/>
<text font-size="29.6" transform="translate(740.18 2289.5) rotate(-90) scale(0.935 1)" text-anchor="end" class="s">SP1-T</text>
<rect x="758.07" y="2271.4" width="3.5" height="13.3" fill="#111"/>
<text font-size="29.6" transform="translate(768.43 2289.5) rotate(-90) scale(0.935 1)" text-anchor="end" class="s">NR2F2-T</text>
<rect x="786.21" y="2271.4" width="3.5" height="13.3" fill="#111"/>
<text font-size="29.6" transform="translate(796.69 2289.5) rotate(-90) scale(0.935 1)" text-anchor="end" class="s">XBP1-NT</text>
<rect x="814.35" y="2271.4" width="3.5" height="13.3" fill="#111"/>
<text font-size="29.6" transform="translate(824.94 2289.5) rotate(-90) scale(0.935 1)" text-anchor="end" class="s">HNF4A-NT</text>
<rect x="842.49" y="2271.4" width="3.5" height="13.3" fill="#111"/>
<text font-size="29.6" transform="translate(853.19 2289.5) rotate(-90) scale(0.935 1)" text-anchor="end" class="s">RXRA-NT</text>
<rect x="870.64" y="2271.4" width="3.5" height="13.3" fill="#111"/>
<text font-size="29.6" transform="translate(881.45 2289.5) rotate(-90) scale(0.935 1)" text-anchor="end" class="s">YY1-NT</text>
<rect x="898.78" y="2271.4" width="3.5" height="13.3" fill="#111"/>
<text font-size="29.6" transform="translate(909.7 2289.5) rotate(-90) scale(0.935 1)" text-anchor="end" class="s">YY-T</text>
<rect x="926.92" y="2271.4" width="3.5" height="13.3" fill="#111"/>
<text font-size="29.6" transform="translate(937.96 2289.5) rotate(-90) scale(0.935 1)" text-anchor="end" class="s">CREB1-NT</text>
<rect x="955.07" y="2271.4" width="3.5" height="13.3" fill="#111"/>
<text font-size="29.6" transform="translate(966.21 2289.5) rotate(-90) scale(0.935 1)" text-anchor="end" class="s">CREB1-T</text>
<rect x="983.21" y="2271.4" width="3.5" height="13.3" fill="#111"/>
<text font-size="29.6" transform="translate(994.46 2289.5) rotate(-90) scale(0.935 1)" text-anchor="end" class="s">ONECUT1-NT</text>
<rect x="1011.35" y="2271.4" width="3.5" height="13.3" fill="#111"/>
<text font-size="29.6" transform="translate(1022.72 2289.5) rotate(-90) scale(0.935 1)" text-anchor="end" class="s">TFAP2C-NT</text>
<rect x="1039.5" y="2271.4" width="3.5" height="13.3" fill="#111"/>
<text font-size="29.6" transform="translate(1050.97 2289.5) rotate(-90) scale(0.935 1)" text-anchor="end" class="s">TFAP2C-T</text>
<rect x="1067.64" y="2271.4" width="3.5" height="13.3" fill="#111"/>
<text font-size="29.6" transform="translate(1079.23 2289.5) rotate(-90) scale(0.935 1)" text-anchor="end" class="s">AP1-NT</text>
<rect x="1095.78" y="2271.4" width="3.5" height="13.3" fill="#111"/>
<text font-size="29.6" transform="translate(1107.48 2289.5) rotate(-90) scale(0.935 1)" text-anchor="end" class="s">GABPA-NT</text>
<rect x="1123.92" y="2271.4" width="3.5" height="13.3" fill="#111"/>
<text font-size="29.6" transform="translate(1135.73 2289.5) rotate(-90) scale(0.935 1)" text-anchor="end" class="s">FOXA1-T</text>
<rect x="1152.07" y="2271.4" width="3.5" height="13.3" fill="#111"/>
<text font-size="29.6" transform="translate(1163.99 2289.5) rotate(-90) scale(0.935 1)" text-anchor="end" class="s">PPARA-T</text>
<rect x="1180.21" y="2271.4" width="3.5" height="13.3" fill="#111"/>
<text font-size="29.6" transform="translate(1192.24 2289.5) rotate(-90) scale(0.935 1)" text-anchor="end" class="s">AP1-T</text>
<rect x="1208.35" y="2271.4" width="3.5" height="13.3" fill="#111"/>
<text font-size="29.6" transform="translate(1220.5 2289.5) rotate(-90) scale(0.935 1)" text-anchor="end" class="s">CEBPA-NT</text>
<rect x="1236.5" y="2271.4" width="3.5" height="13.3" fill="#111"/>
<text font-size="29.6" transform="translate(1248.75 2289.5) rotate(-90) scale(0.935 1)" text-anchor="end" class="s">CEBPA-T</text>
<rect x="1264.64" y="2271.4" width="3.5" height="13.3" fill="#111"/>
<text font-size="29.6" transform="translate(1277 2289.5) rotate(-90) scale(0.935 1)" text-anchor="end" class="s">SP1-NT</text>
<rect x="1292.78" y="2271.4" width="3.5" height="13.3" fill="#111"/>
<text font-size="29.6" transform="translate(1305.26 2289.5) rotate(-90) scale(0.935 1)" text-anchor="end" class="s">RXRA-T</text>
<rect x="1320.93" y="2271.4" width="3.5" height="13.3" fill="#111"/>
<text font-size="29.6" transform="translate(1333.51 2289.5) rotate(-90) scale(0.935 1)" text-anchor="end" class="s">HNF4A-T</text>
<rect x="1349.07" y="2271.4" width="3.5" height="13.3" fill="#111"/>
<text font-size="29.6" transform="translate(1361.77 2289.5) rotate(-90) scale(0.935 1)" text-anchor="end" class="s">NR2F2-NT</text>
<rect x="1377.21" y="2271.4" width="3.5" height="13.3" fill="#111"/>
<text font-size="29.6" transform="translate(1390.02 2289.5) rotate(-90) scale(0.935 1)" text-anchor="end" class="s">FOXA1-NT</text>
<rect x="1405.35" y="2271.4" width="3.5" height="13.3" fill="#111"/>
<text font-size="29.6" transform="translate(1418.27 2289.5) rotate(-90) scale(0.935 1)" text-anchor="end" class="s">ONECUT1-T</text>
<rect x="1433.5" y="2271.4" width="3.5" height="13.3" fill="#111"/>
<text font-size="29.6" transform="translate(1446.53 2289.5) rotate(-90) scale(0.935 1)" text-anchor="end" class="s">AHR-NT</text>
<rect x="1461.64" y="2271.4" width="3.5" height="13.3" fill="#111"/>
<text font-size="29.6" transform="translate(1474.78 2289.5) rotate(-90) scale(0.935 1)" text-anchor="end" class="s">GABPA-T</text>
<rect x="1489.78" y="2271.4" width="3.5" height="13.3" fill="#111"/>
<text font-size="29.6" transform="translate(1503.04 2289.5) rotate(-90) scale(0.935 1)" text-anchor="end" class="s">CTCF-NT</text>
<rect x="1517.93" y="2271.4" width="3.5" height="13.3" fill="#111"/>
<text font-size="29.6" transform="translate(1531.29 2289.5) rotate(-90) scale(0.935 1)" text-anchor="end" class="s">CTCF-T</text>
<circle cx="211.9" cy="1836" r="12.8" fill="#dbf4b2" stroke="#111" stroke-width="2.8"/>
<text font-size="29" transform="translate(190.8 1846.6) scale(0.973 1)" text-anchor="end" class="s">CEBPA</text>
<circle cx="211.9" cy="1870.15" r="12.8" fill="#3b5e38" stroke="#111" stroke-width="2.8"/>
<text font-size="29" transform="translate(190.8 1880.75) scale(0.973 1)" text-anchor="end" class="s">XBP1</text>
<circle cx="211.9" cy="1904.3" r="12.8" fill="#c0dbf2" stroke="#111" stroke-width="2.8"/>
<text font-size="29" transform="translate(190.8 1914.9) scale(0.973 1)" text-anchor="end" class="s">HNF4A</text>
<circle cx="211.9" cy="1938.45" r="12.8" fill="#8e3a75" stroke="#111" stroke-width="2.8"/>
<text font-size="29" transform="translate(190.8 1949.05) scale(0.973 1)" text-anchor="end" class="s">GABPA</text>
<circle cx="211.9" cy="1972.6" r="12.8" fill="#a8d62b" stroke="#111" stroke-width="2.8"/>
<text font-size="29" transform="translate(190.8 1983.2) scale(0.973 1)" text-anchor="end" class="s">RXRA</text>
<circle cx="211.9" cy="2006.75" r="12.8" fill="#fedcc8" stroke="#111" stroke-width="2.8"/>
<text font-size="29" transform="translate(190.8 2017.35) scale(0.973 1)" text-anchor="end" class="s">FOXA1</text>
<circle cx="211.9" cy="2040.9" r="12.8" fill="#84a224" stroke="#111" stroke-width="2.8"/>
<text font-size="29" transform="translate(190.8 2051.5) scale(0.973 1)" text-anchor="end" class="s">CTCF</text>
<circle cx="211.9" cy="2075.05" r="12.8" fill="#e0bbee" stroke="#111" stroke-width="2.8"/>
<text font-size="29" transform="translate(190.8 2085.65) scale(0.973 1)" text-anchor="end" class="s">REST</text>
<circle cx="211.9" cy="2109.2" r="12.8" fill="#52aa9b" stroke="#111" stroke-width="2.8"/>
<text font-size="29" transform="translate(190.8 2119.8) scale(0.973 1)" text-anchor="end" class="s">YY1</text>
<circle cx="211.9" cy="2143.35" r="12.8" fill="#a8e3ee" stroke="#111" stroke-width="2.8"/>
<text font-size="29" transform="translate(190.8 2153.95) scale(0.973 1)" text-anchor="end" class="s">ONECUT1</text>
<circle cx="211.9" cy="2177.5" r="12.8" fill="#3c50a8" stroke="#111" stroke-width="2.8"/>
<text font-size="29" transform="translate(190.8 2188.1) scale(0.973 1)" text-anchor="end" class="s">AHR</text>
<circle cx="211.9" cy="2211.65" r="12.8" fill="#cddc00" stroke="#111" stroke-width="2.8"/>
<text font-size="29" transform="translate(190.8 2222.25) scale(0.973 1)" text-anchor="end" class="s">HNF1A</text>
<circle cx="211.9" cy="2245.8" r="12.8" fill="#3b86c0" stroke="#111" stroke-width="2.8"/>
<text font-size="29" transform="translate(190.8 2256.4) scale(0.973 1)" text-anchor="end" class="s">NR2F2</text>
<circle cx="211.9" cy="2279.95" r="12.8" fill="#8bdeb8" stroke="#111" stroke-width="2.8"/>
<text font-size="29" transform="translate(190.8 2290.55) scale(0.973 1)" text-anchor="end" class="s">PPARA</text>
<circle cx="211.9" cy="2314.1" r="12.8" fill="#f96287" stroke="#111" stroke-width="2.8"/>
<text font-size="29" transform="translate(190.8 2324.7) scale(0.973 1)" text-anchor="end" class="s">TFAP2C</text>
<circle cx="211.9" cy="2348.25" r="12.8" fill="#9e2b1a" stroke="#111" stroke-width="2.8"/>
<text font-size="29" transform="translate(190.8 2358.85) scale(0.973 1)" text-anchor="end" class="s">SP1</text>
<circle cx="211.9" cy="2382.4" r="12.8" fill="#8c551a" stroke="#111" stroke-width="2.8"/>
<text font-size="29" transform="translate(190.8 2393) scale(0.973 1)" text-anchor="end" class="s">AP1</text>
<circle cx="211.9" cy="2416.55" r="12.8" fill="#e66f05" stroke="#111" stroke-width="2.8"/>
<text font-size="29" transform="translate(190.8 2427.15) scale(0.973 1)" text-anchor="end" class="s">CREB1</text>
<circle cx="211.9" cy="2450.7" r="12.8" fill="#8b2fb8" stroke="#111" stroke-width="2.8"/>
<text font-size="29" transform="translate(190.8 2461.3) scale(0.973 1)" text-anchor="end" class="s">Template</text>
<circle cx="211.9" cy="2484.85" r="12.8" fill="#fccb4e" stroke="#111" stroke-width="2.8"/>
<text font-size="29" transform="translate(190.8 2495.45) scale(0.973 1)" text-anchor="end" class="s">Non-Template</text>
</g>
</svg>
</body></html>
